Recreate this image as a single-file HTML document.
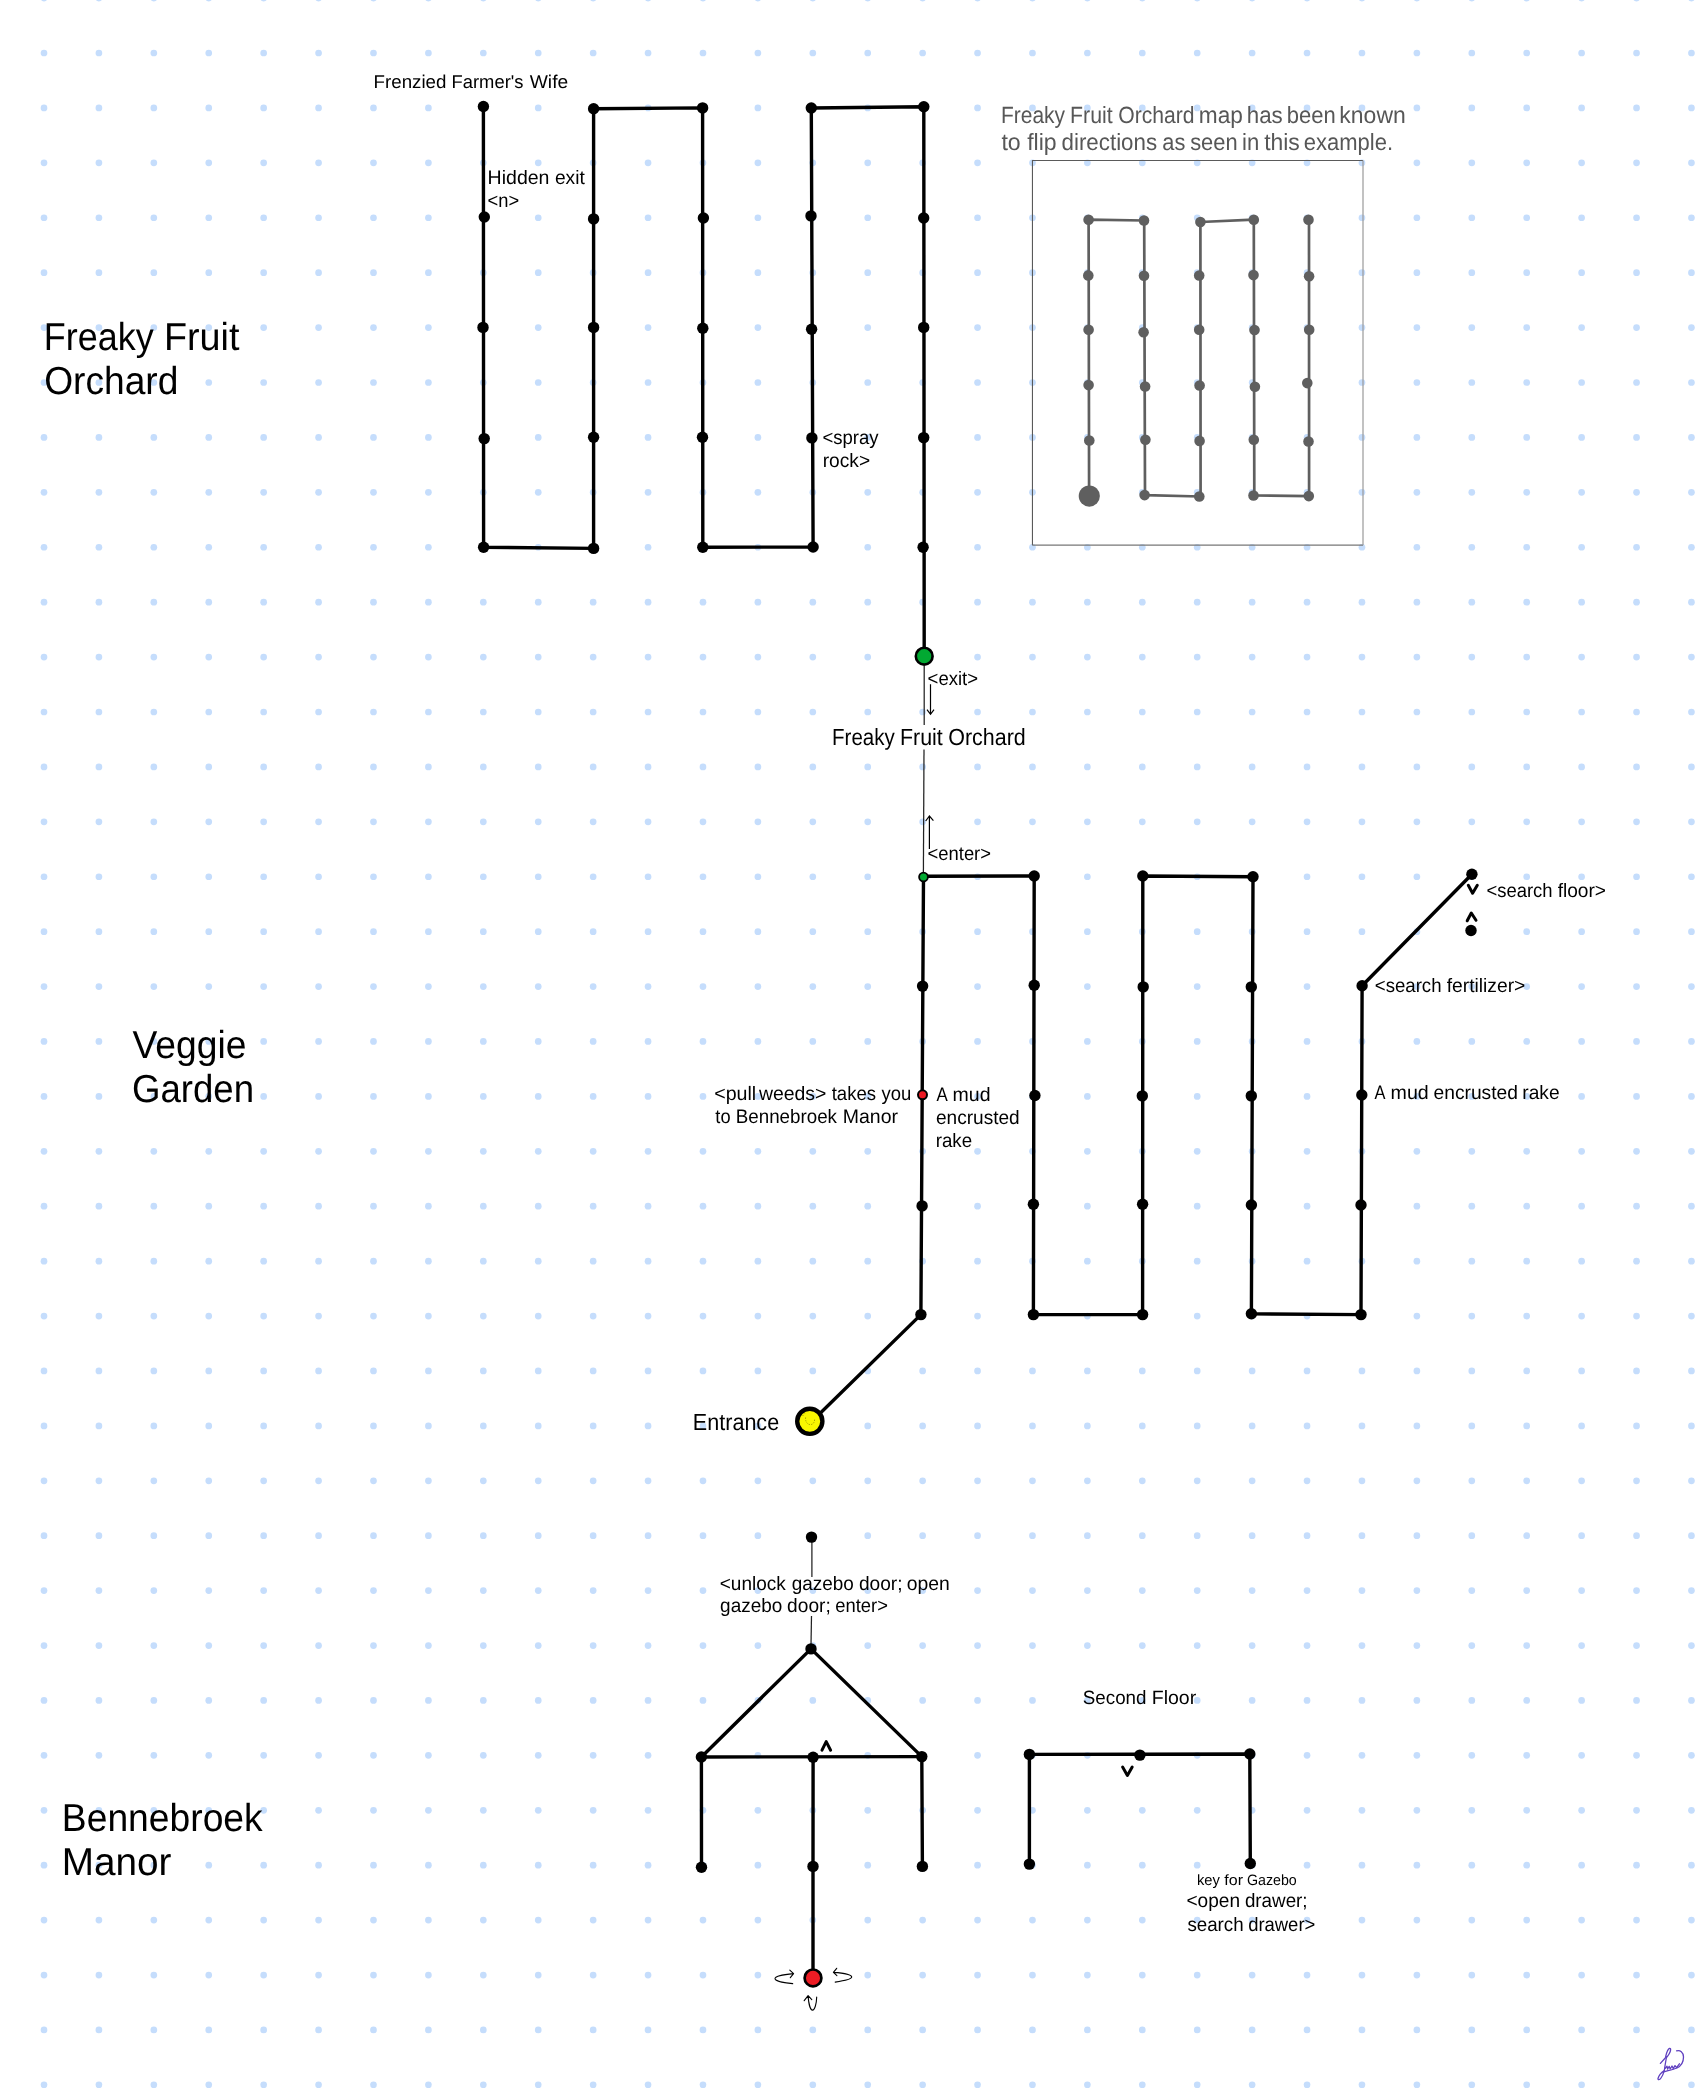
<!DOCTYPE html>
<html><head><meta charset="utf-8"><style>
html,body{margin:0;padding:0;background:#fff;}
body{width:1695px;height:2088px;overflow:hidden;}
svg{display:block;}
text{font-family:"Liberation Sans",sans-serif;text-rendering:geometricPrecision;}
</style></head><body>
<svg width="1695" height="2088" viewBox="0 0 1695 2088">
<defs><filter id="gs" x="0" y="0" width="100%" height="100%" filterUnits="userSpaceOnUse"><feColorMatrix type="identity"/></filter></defs>
<rect width="1695" height="2088" fill="#fff"/>
<g fill="#c5ddfc"><circle cx="44.00" cy="-1.91" r="3.35"/><circle cx="98.91" cy="-1.91" r="3.35"/><circle cx="153.83" cy="-1.91" r="3.35"/><circle cx="208.75" cy="-1.91" r="3.35"/><circle cx="263.66" cy="-1.91" r="3.35"/><circle cx="318.57" cy="-1.91" r="3.35"/><circle cx="373.49" cy="-1.91" r="3.35"/><circle cx="428.40" cy="-1.91" r="3.35"/><circle cx="483.32" cy="-1.91" r="3.35"/><circle cx="538.24" cy="-1.91" r="3.35"/><circle cx="593.15" cy="-1.91" r="3.35"/><circle cx="648.06" cy="-1.91" r="3.35"/><circle cx="702.98" cy="-1.91" r="3.35"/><circle cx="757.89" cy="-1.91" r="3.35"/><circle cx="812.81" cy="-1.91" r="3.35"/><circle cx="867.73" cy="-1.91" r="3.35"/><circle cx="922.64" cy="-1.91" r="3.35"/><circle cx="977.55" cy="-1.91" r="3.35"/><circle cx="1032.47" cy="-1.91" r="3.35"/><circle cx="1087.38" cy="-1.91" r="3.35"/><circle cx="1142.30" cy="-1.91" r="3.35"/><circle cx="1197.21" cy="-1.91" r="3.35"/><circle cx="1252.13" cy="-1.91" r="3.35"/><circle cx="1307.05" cy="-1.91" r="3.35"/><circle cx="1361.96" cy="-1.91" r="3.35"/><circle cx="1416.88" cy="-1.91" r="3.35"/><circle cx="1471.79" cy="-1.91" r="3.35"/><circle cx="1526.70" cy="-1.91" r="3.35"/><circle cx="1581.62" cy="-1.91" r="3.35"/><circle cx="1636.54" cy="-1.91" r="3.35"/><circle cx="1691.45" cy="-1.91" r="3.35"/><circle cx="44.00" cy="53.00" r="3.35"/><circle cx="98.91" cy="53.00" r="3.35"/><circle cx="153.83" cy="53.00" r="3.35"/><circle cx="208.75" cy="53.00" r="3.35"/><circle cx="263.66" cy="53.00" r="3.35"/><circle cx="318.57" cy="53.00" r="3.35"/><circle cx="373.49" cy="53.00" r="3.35"/><circle cx="428.40" cy="53.00" r="3.35"/><circle cx="483.32" cy="53.00" r="3.35"/><circle cx="538.24" cy="53.00" r="3.35"/><circle cx="593.15" cy="53.00" r="3.35"/><circle cx="648.06" cy="53.00" r="3.35"/><circle cx="702.98" cy="53.00" r="3.35"/><circle cx="757.89" cy="53.00" r="3.35"/><circle cx="812.81" cy="53.00" r="3.35"/><circle cx="867.73" cy="53.00" r="3.35"/><circle cx="922.64" cy="53.00" r="3.35"/><circle cx="977.55" cy="53.00" r="3.35"/><circle cx="1032.47" cy="53.00" r="3.35"/><circle cx="1087.38" cy="53.00" r="3.35"/><circle cx="1142.30" cy="53.00" r="3.35"/><circle cx="1197.21" cy="53.00" r="3.35"/><circle cx="1252.13" cy="53.00" r="3.35"/><circle cx="1307.05" cy="53.00" r="3.35"/><circle cx="1361.96" cy="53.00" r="3.35"/><circle cx="1416.88" cy="53.00" r="3.35"/><circle cx="1471.79" cy="53.00" r="3.35"/><circle cx="1526.70" cy="53.00" r="3.35"/><circle cx="1581.62" cy="53.00" r="3.35"/><circle cx="1636.54" cy="53.00" r="3.35"/><circle cx="1691.45" cy="53.00" r="3.35"/><circle cx="44.00" cy="107.91" r="3.35"/><circle cx="98.91" cy="107.91" r="3.35"/><circle cx="153.83" cy="107.91" r="3.35"/><circle cx="208.75" cy="107.91" r="3.35"/><circle cx="263.66" cy="107.91" r="3.35"/><circle cx="318.57" cy="107.91" r="3.35"/><circle cx="373.49" cy="107.91" r="3.35"/><circle cx="428.40" cy="107.91" r="3.35"/><circle cx="483.32" cy="107.91" r="3.35"/><circle cx="538.24" cy="107.91" r="3.35"/><circle cx="593.15" cy="107.91" r="3.35"/><circle cx="648.06" cy="107.91" r="3.35"/><circle cx="702.98" cy="107.91" r="3.35"/><circle cx="757.89" cy="107.91" r="3.35"/><circle cx="812.81" cy="107.91" r="3.35"/><circle cx="867.73" cy="107.91" r="3.35"/><circle cx="922.64" cy="107.91" r="3.35"/><circle cx="977.55" cy="107.91" r="3.35"/><circle cx="1032.47" cy="107.91" r="3.35"/><circle cx="1087.38" cy="107.91" r="3.35"/><circle cx="1142.30" cy="107.91" r="3.35"/><circle cx="1197.21" cy="107.91" r="3.35"/><circle cx="1252.13" cy="107.91" r="3.35"/><circle cx="1307.05" cy="107.91" r="3.35"/><circle cx="1361.96" cy="107.91" r="3.35"/><circle cx="1416.88" cy="107.91" r="3.35"/><circle cx="1471.79" cy="107.91" r="3.35"/><circle cx="1526.70" cy="107.91" r="3.35"/><circle cx="1581.62" cy="107.91" r="3.35"/><circle cx="1636.54" cy="107.91" r="3.35"/><circle cx="1691.45" cy="107.91" r="3.35"/><circle cx="44.00" cy="162.83" r="3.35"/><circle cx="98.91" cy="162.83" r="3.35"/><circle cx="153.83" cy="162.83" r="3.35"/><circle cx="208.75" cy="162.83" r="3.35"/><circle cx="263.66" cy="162.83" r="3.35"/><circle cx="318.57" cy="162.83" r="3.35"/><circle cx="373.49" cy="162.83" r="3.35"/><circle cx="428.40" cy="162.83" r="3.35"/><circle cx="483.32" cy="162.83" r="3.35"/><circle cx="538.24" cy="162.83" r="3.35"/><circle cx="593.15" cy="162.83" r="3.35"/><circle cx="648.06" cy="162.83" r="3.35"/><circle cx="702.98" cy="162.83" r="3.35"/><circle cx="757.89" cy="162.83" r="3.35"/><circle cx="812.81" cy="162.83" r="3.35"/><circle cx="867.73" cy="162.83" r="3.35"/><circle cx="922.64" cy="162.83" r="3.35"/><circle cx="977.55" cy="162.83" r="3.35"/><circle cx="1032.47" cy="162.83" r="3.35"/><circle cx="1087.38" cy="162.83" r="3.35"/><circle cx="1142.30" cy="162.83" r="3.35"/><circle cx="1197.21" cy="162.83" r="3.35"/><circle cx="1252.13" cy="162.83" r="3.35"/><circle cx="1307.05" cy="162.83" r="3.35"/><circle cx="1361.96" cy="162.83" r="3.35"/><circle cx="1416.88" cy="162.83" r="3.35"/><circle cx="1471.79" cy="162.83" r="3.35"/><circle cx="1526.70" cy="162.83" r="3.35"/><circle cx="1581.62" cy="162.83" r="3.35"/><circle cx="1636.54" cy="162.83" r="3.35"/><circle cx="1691.45" cy="162.83" r="3.35"/><circle cx="44.00" cy="217.75" r="3.35"/><circle cx="98.91" cy="217.75" r="3.35"/><circle cx="153.83" cy="217.75" r="3.35"/><circle cx="208.75" cy="217.75" r="3.35"/><circle cx="263.66" cy="217.75" r="3.35"/><circle cx="318.57" cy="217.75" r="3.35"/><circle cx="373.49" cy="217.75" r="3.35"/><circle cx="428.40" cy="217.75" r="3.35"/><circle cx="483.32" cy="217.75" r="3.35"/><circle cx="538.24" cy="217.75" r="3.35"/><circle cx="593.15" cy="217.75" r="3.35"/><circle cx="648.06" cy="217.75" r="3.35"/><circle cx="702.98" cy="217.75" r="3.35"/><circle cx="757.89" cy="217.75" r="3.35"/><circle cx="812.81" cy="217.75" r="3.35"/><circle cx="867.73" cy="217.75" r="3.35"/><circle cx="922.64" cy="217.75" r="3.35"/><circle cx="977.55" cy="217.75" r="3.35"/><circle cx="1032.47" cy="217.75" r="3.35"/><circle cx="1087.38" cy="217.75" r="3.35"/><circle cx="1142.30" cy="217.75" r="3.35"/><circle cx="1197.21" cy="217.75" r="3.35"/><circle cx="1252.13" cy="217.75" r="3.35"/><circle cx="1307.05" cy="217.75" r="3.35"/><circle cx="1361.96" cy="217.75" r="3.35"/><circle cx="1416.88" cy="217.75" r="3.35"/><circle cx="1471.79" cy="217.75" r="3.35"/><circle cx="1526.70" cy="217.75" r="3.35"/><circle cx="1581.62" cy="217.75" r="3.35"/><circle cx="1636.54" cy="217.75" r="3.35"/><circle cx="1691.45" cy="217.75" r="3.35"/><circle cx="44.00" cy="272.66" r="3.35"/><circle cx="98.91" cy="272.66" r="3.35"/><circle cx="153.83" cy="272.66" r="3.35"/><circle cx="208.75" cy="272.66" r="3.35"/><circle cx="263.66" cy="272.66" r="3.35"/><circle cx="318.57" cy="272.66" r="3.35"/><circle cx="373.49" cy="272.66" r="3.35"/><circle cx="428.40" cy="272.66" r="3.35"/><circle cx="483.32" cy="272.66" r="3.35"/><circle cx="538.24" cy="272.66" r="3.35"/><circle cx="593.15" cy="272.66" r="3.35"/><circle cx="648.06" cy="272.66" r="3.35"/><circle cx="702.98" cy="272.66" r="3.35"/><circle cx="757.89" cy="272.66" r="3.35"/><circle cx="812.81" cy="272.66" r="3.35"/><circle cx="867.73" cy="272.66" r="3.35"/><circle cx="922.64" cy="272.66" r="3.35"/><circle cx="977.55" cy="272.66" r="3.35"/><circle cx="1032.47" cy="272.66" r="3.35"/><circle cx="1087.38" cy="272.66" r="3.35"/><circle cx="1142.30" cy="272.66" r="3.35"/><circle cx="1197.21" cy="272.66" r="3.35"/><circle cx="1252.13" cy="272.66" r="3.35"/><circle cx="1307.05" cy="272.66" r="3.35"/><circle cx="1361.96" cy="272.66" r="3.35"/><circle cx="1416.88" cy="272.66" r="3.35"/><circle cx="1471.79" cy="272.66" r="3.35"/><circle cx="1526.70" cy="272.66" r="3.35"/><circle cx="1581.62" cy="272.66" r="3.35"/><circle cx="1636.54" cy="272.66" r="3.35"/><circle cx="1691.45" cy="272.66" r="3.35"/><circle cx="44.00" cy="327.57" r="3.35"/><circle cx="98.91" cy="327.57" r="3.35"/><circle cx="153.83" cy="327.57" r="3.35"/><circle cx="208.75" cy="327.57" r="3.35"/><circle cx="263.66" cy="327.57" r="3.35"/><circle cx="318.57" cy="327.57" r="3.35"/><circle cx="373.49" cy="327.57" r="3.35"/><circle cx="428.40" cy="327.57" r="3.35"/><circle cx="483.32" cy="327.57" r="3.35"/><circle cx="538.24" cy="327.57" r="3.35"/><circle cx="593.15" cy="327.57" r="3.35"/><circle cx="648.06" cy="327.57" r="3.35"/><circle cx="702.98" cy="327.57" r="3.35"/><circle cx="757.89" cy="327.57" r="3.35"/><circle cx="812.81" cy="327.57" r="3.35"/><circle cx="867.73" cy="327.57" r="3.35"/><circle cx="922.64" cy="327.57" r="3.35"/><circle cx="977.55" cy="327.57" r="3.35"/><circle cx="1032.47" cy="327.57" r="3.35"/><circle cx="1087.38" cy="327.57" r="3.35"/><circle cx="1142.30" cy="327.57" r="3.35"/><circle cx="1197.21" cy="327.57" r="3.35"/><circle cx="1252.13" cy="327.57" r="3.35"/><circle cx="1307.05" cy="327.57" r="3.35"/><circle cx="1361.96" cy="327.57" r="3.35"/><circle cx="1416.88" cy="327.57" r="3.35"/><circle cx="1471.79" cy="327.57" r="3.35"/><circle cx="1526.70" cy="327.57" r="3.35"/><circle cx="1581.62" cy="327.57" r="3.35"/><circle cx="1636.54" cy="327.57" r="3.35"/><circle cx="1691.45" cy="327.57" r="3.35"/><circle cx="44.00" cy="382.49" r="3.35"/><circle cx="98.91" cy="382.49" r="3.35"/><circle cx="153.83" cy="382.49" r="3.35"/><circle cx="208.75" cy="382.49" r="3.35"/><circle cx="263.66" cy="382.49" r="3.35"/><circle cx="318.57" cy="382.49" r="3.35"/><circle cx="373.49" cy="382.49" r="3.35"/><circle cx="428.40" cy="382.49" r="3.35"/><circle cx="483.32" cy="382.49" r="3.35"/><circle cx="538.24" cy="382.49" r="3.35"/><circle cx="593.15" cy="382.49" r="3.35"/><circle cx="648.06" cy="382.49" r="3.35"/><circle cx="702.98" cy="382.49" r="3.35"/><circle cx="757.89" cy="382.49" r="3.35"/><circle cx="812.81" cy="382.49" r="3.35"/><circle cx="867.73" cy="382.49" r="3.35"/><circle cx="922.64" cy="382.49" r="3.35"/><circle cx="977.55" cy="382.49" r="3.35"/><circle cx="1032.47" cy="382.49" r="3.35"/><circle cx="1087.38" cy="382.49" r="3.35"/><circle cx="1142.30" cy="382.49" r="3.35"/><circle cx="1197.21" cy="382.49" r="3.35"/><circle cx="1252.13" cy="382.49" r="3.35"/><circle cx="1307.05" cy="382.49" r="3.35"/><circle cx="1361.96" cy="382.49" r="3.35"/><circle cx="1416.88" cy="382.49" r="3.35"/><circle cx="1471.79" cy="382.49" r="3.35"/><circle cx="1526.70" cy="382.49" r="3.35"/><circle cx="1581.62" cy="382.49" r="3.35"/><circle cx="1636.54" cy="382.49" r="3.35"/><circle cx="1691.45" cy="382.49" r="3.35"/><circle cx="44.00" cy="437.40" r="3.35"/><circle cx="98.91" cy="437.40" r="3.35"/><circle cx="153.83" cy="437.40" r="3.35"/><circle cx="208.75" cy="437.40" r="3.35"/><circle cx="263.66" cy="437.40" r="3.35"/><circle cx="318.57" cy="437.40" r="3.35"/><circle cx="373.49" cy="437.40" r="3.35"/><circle cx="428.40" cy="437.40" r="3.35"/><circle cx="483.32" cy="437.40" r="3.35"/><circle cx="538.24" cy="437.40" r="3.35"/><circle cx="593.15" cy="437.40" r="3.35"/><circle cx="648.06" cy="437.40" r="3.35"/><circle cx="702.98" cy="437.40" r="3.35"/><circle cx="757.89" cy="437.40" r="3.35"/><circle cx="812.81" cy="437.40" r="3.35"/><circle cx="867.73" cy="437.40" r="3.35"/><circle cx="922.64" cy="437.40" r="3.35"/><circle cx="977.55" cy="437.40" r="3.35"/><circle cx="1032.47" cy="437.40" r="3.35"/><circle cx="1087.38" cy="437.40" r="3.35"/><circle cx="1142.30" cy="437.40" r="3.35"/><circle cx="1197.21" cy="437.40" r="3.35"/><circle cx="1252.13" cy="437.40" r="3.35"/><circle cx="1307.05" cy="437.40" r="3.35"/><circle cx="1361.96" cy="437.40" r="3.35"/><circle cx="1416.88" cy="437.40" r="3.35"/><circle cx="1471.79" cy="437.40" r="3.35"/><circle cx="1526.70" cy="437.40" r="3.35"/><circle cx="1581.62" cy="437.40" r="3.35"/><circle cx="1636.54" cy="437.40" r="3.35"/><circle cx="1691.45" cy="437.40" r="3.35"/><circle cx="44.00" cy="492.32" r="3.35"/><circle cx="98.91" cy="492.32" r="3.35"/><circle cx="153.83" cy="492.32" r="3.35"/><circle cx="208.75" cy="492.32" r="3.35"/><circle cx="263.66" cy="492.32" r="3.35"/><circle cx="318.57" cy="492.32" r="3.35"/><circle cx="373.49" cy="492.32" r="3.35"/><circle cx="428.40" cy="492.32" r="3.35"/><circle cx="483.32" cy="492.32" r="3.35"/><circle cx="538.24" cy="492.32" r="3.35"/><circle cx="593.15" cy="492.32" r="3.35"/><circle cx="648.06" cy="492.32" r="3.35"/><circle cx="702.98" cy="492.32" r="3.35"/><circle cx="757.89" cy="492.32" r="3.35"/><circle cx="812.81" cy="492.32" r="3.35"/><circle cx="867.73" cy="492.32" r="3.35"/><circle cx="922.64" cy="492.32" r="3.35"/><circle cx="977.55" cy="492.32" r="3.35"/><circle cx="1032.47" cy="492.32" r="3.35"/><circle cx="1087.38" cy="492.32" r="3.35"/><circle cx="1142.30" cy="492.32" r="3.35"/><circle cx="1197.21" cy="492.32" r="3.35"/><circle cx="1252.13" cy="492.32" r="3.35"/><circle cx="1307.05" cy="492.32" r="3.35"/><circle cx="1361.96" cy="492.32" r="3.35"/><circle cx="1416.88" cy="492.32" r="3.35"/><circle cx="1471.79" cy="492.32" r="3.35"/><circle cx="1526.70" cy="492.32" r="3.35"/><circle cx="1581.62" cy="492.32" r="3.35"/><circle cx="1636.54" cy="492.32" r="3.35"/><circle cx="1691.45" cy="492.32" r="3.35"/><circle cx="44.00" cy="547.24" r="3.35"/><circle cx="98.91" cy="547.24" r="3.35"/><circle cx="153.83" cy="547.24" r="3.35"/><circle cx="208.75" cy="547.24" r="3.35"/><circle cx="263.66" cy="547.24" r="3.35"/><circle cx="318.57" cy="547.24" r="3.35"/><circle cx="373.49" cy="547.24" r="3.35"/><circle cx="428.40" cy="547.24" r="3.35"/><circle cx="483.32" cy="547.24" r="3.35"/><circle cx="538.24" cy="547.24" r="3.35"/><circle cx="593.15" cy="547.24" r="3.35"/><circle cx="648.06" cy="547.24" r="3.35"/><circle cx="702.98" cy="547.24" r="3.35"/><circle cx="757.89" cy="547.24" r="3.35"/><circle cx="812.81" cy="547.24" r="3.35"/><circle cx="867.73" cy="547.24" r="3.35"/><circle cx="922.64" cy="547.24" r="3.35"/><circle cx="977.55" cy="547.24" r="3.35"/><circle cx="1032.47" cy="547.24" r="3.35"/><circle cx="1087.38" cy="547.24" r="3.35"/><circle cx="1142.30" cy="547.24" r="3.35"/><circle cx="1197.21" cy="547.24" r="3.35"/><circle cx="1252.13" cy="547.24" r="3.35"/><circle cx="1307.05" cy="547.24" r="3.35"/><circle cx="1361.96" cy="547.24" r="3.35"/><circle cx="1416.88" cy="547.24" r="3.35"/><circle cx="1471.79" cy="547.24" r="3.35"/><circle cx="1526.70" cy="547.24" r="3.35"/><circle cx="1581.62" cy="547.24" r="3.35"/><circle cx="1636.54" cy="547.24" r="3.35"/><circle cx="1691.45" cy="547.24" r="3.35"/><circle cx="44.00" cy="602.15" r="3.35"/><circle cx="98.91" cy="602.15" r="3.35"/><circle cx="153.83" cy="602.15" r="3.35"/><circle cx="208.75" cy="602.15" r="3.35"/><circle cx="263.66" cy="602.15" r="3.35"/><circle cx="318.57" cy="602.15" r="3.35"/><circle cx="373.49" cy="602.15" r="3.35"/><circle cx="428.40" cy="602.15" r="3.35"/><circle cx="483.32" cy="602.15" r="3.35"/><circle cx="538.24" cy="602.15" r="3.35"/><circle cx="593.15" cy="602.15" r="3.35"/><circle cx="648.06" cy="602.15" r="3.35"/><circle cx="702.98" cy="602.15" r="3.35"/><circle cx="757.89" cy="602.15" r="3.35"/><circle cx="812.81" cy="602.15" r="3.35"/><circle cx="867.73" cy="602.15" r="3.35"/><circle cx="922.64" cy="602.15" r="3.35"/><circle cx="977.55" cy="602.15" r="3.35"/><circle cx="1032.47" cy="602.15" r="3.35"/><circle cx="1087.38" cy="602.15" r="3.35"/><circle cx="1142.30" cy="602.15" r="3.35"/><circle cx="1197.21" cy="602.15" r="3.35"/><circle cx="1252.13" cy="602.15" r="3.35"/><circle cx="1307.05" cy="602.15" r="3.35"/><circle cx="1361.96" cy="602.15" r="3.35"/><circle cx="1416.88" cy="602.15" r="3.35"/><circle cx="1471.79" cy="602.15" r="3.35"/><circle cx="1526.70" cy="602.15" r="3.35"/><circle cx="1581.62" cy="602.15" r="3.35"/><circle cx="1636.54" cy="602.15" r="3.35"/><circle cx="1691.45" cy="602.15" r="3.35"/><circle cx="44.00" cy="657.07" r="3.35"/><circle cx="98.91" cy="657.07" r="3.35"/><circle cx="153.83" cy="657.07" r="3.35"/><circle cx="208.75" cy="657.07" r="3.35"/><circle cx="263.66" cy="657.07" r="3.35"/><circle cx="318.57" cy="657.07" r="3.35"/><circle cx="373.49" cy="657.07" r="3.35"/><circle cx="428.40" cy="657.07" r="3.35"/><circle cx="483.32" cy="657.07" r="3.35"/><circle cx="538.24" cy="657.07" r="3.35"/><circle cx="593.15" cy="657.07" r="3.35"/><circle cx="648.06" cy="657.07" r="3.35"/><circle cx="702.98" cy="657.07" r="3.35"/><circle cx="757.89" cy="657.07" r="3.35"/><circle cx="812.81" cy="657.07" r="3.35"/><circle cx="867.73" cy="657.07" r="3.35"/><circle cx="922.64" cy="657.07" r="3.35"/><circle cx="977.55" cy="657.07" r="3.35"/><circle cx="1032.47" cy="657.07" r="3.35"/><circle cx="1087.38" cy="657.07" r="3.35"/><circle cx="1142.30" cy="657.07" r="3.35"/><circle cx="1197.21" cy="657.07" r="3.35"/><circle cx="1252.13" cy="657.07" r="3.35"/><circle cx="1307.05" cy="657.07" r="3.35"/><circle cx="1361.96" cy="657.07" r="3.35"/><circle cx="1416.88" cy="657.07" r="3.35"/><circle cx="1471.79" cy="657.07" r="3.35"/><circle cx="1526.70" cy="657.07" r="3.35"/><circle cx="1581.62" cy="657.07" r="3.35"/><circle cx="1636.54" cy="657.07" r="3.35"/><circle cx="1691.45" cy="657.07" r="3.35"/><circle cx="44.00" cy="711.98" r="3.35"/><circle cx="98.91" cy="711.98" r="3.35"/><circle cx="153.83" cy="711.98" r="3.35"/><circle cx="208.75" cy="711.98" r="3.35"/><circle cx="263.66" cy="711.98" r="3.35"/><circle cx="318.57" cy="711.98" r="3.35"/><circle cx="373.49" cy="711.98" r="3.35"/><circle cx="428.40" cy="711.98" r="3.35"/><circle cx="483.32" cy="711.98" r="3.35"/><circle cx="538.24" cy="711.98" r="3.35"/><circle cx="593.15" cy="711.98" r="3.35"/><circle cx="648.06" cy="711.98" r="3.35"/><circle cx="702.98" cy="711.98" r="3.35"/><circle cx="757.89" cy="711.98" r="3.35"/><circle cx="812.81" cy="711.98" r="3.35"/><circle cx="867.73" cy="711.98" r="3.35"/><circle cx="922.64" cy="711.98" r="3.35"/><circle cx="977.55" cy="711.98" r="3.35"/><circle cx="1032.47" cy="711.98" r="3.35"/><circle cx="1087.38" cy="711.98" r="3.35"/><circle cx="1142.30" cy="711.98" r="3.35"/><circle cx="1197.21" cy="711.98" r="3.35"/><circle cx="1252.13" cy="711.98" r="3.35"/><circle cx="1307.05" cy="711.98" r="3.35"/><circle cx="1361.96" cy="711.98" r="3.35"/><circle cx="1416.88" cy="711.98" r="3.35"/><circle cx="1471.79" cy="711.98" r="3.35"/><circle cx="1526.70" cy="711.98" r="3.35"/><circle cx="1581.62" cy="711.98" r="3.35"/><circle cx="1636.54" cy="711.98" r="3.35"/><circle cx="1691.45" cy="711.98" r="3.35"/><circle cx="44.00" cy="766.89" r="3.35"/><circle cx="98.91" cy="766.89" r="3.35"/><circle cx="153.83" cy="766.89" r="3.35"/><circle cx="208.75" cy="766.89" r="3.35"/><circle cx="263.66" cy="766.89" r="3.35"/><circle cx="318.57" cy="766.89" r="3.35"/><circle cx="373.49" cy="766.89" r="3.35"/><circle cx="428.40" cy="766.89" r="3.35"/><circle cx="483.32" cy="766.89" r="3.35"/><circle cx="538.24" cy="766.89" r="3.35"/><circle cx="593.15" cy="766.89" r="3.35"/><circle cx="648.06" cy="766.89" r="3.35"/><circle cx="702.98" cy="766.89" r="3.35"/><circle cx="757.89" cy="766.89" r="3.35"/><circle cx="812.81" cy="766.89" r="3.35"/><circle cx="867.73" cy="766.89" r="3.35"/><circle cx="922.64" cy="766.89" r="3.35"/><circle cx="977.55" cy="766.89" r="3.35"/><circle cx="1032.47" cy="766.89" r="3.35"/><circle cx="1087.38" cy="766.89" r="3.35"/><circle cx="1142.30" cy="766.89" r="3.35"/><circle cx="1197.21" cy="766.89" r="3.35"/><circle cx="1252.13" cy="766.89" r="3.35"/><circle cx="1307.05" cy="766.89" r="3.35"/><circle cx="1361.96" cy="766.89" r="3.35"/><circle cx="1416.88" cy="766.89" r="3.35"/><circle cx="1471.79" cy="766.89" r="3.35"/><circle cx="1526.70" cy="766.89" r="3.35"/><circle cx="1581.62" cy="766.89" r="3.35"/><circle cx="1636.54" cy="766.89" r="3.35"/><circle cx="1691.45" cy="766.89" r="3.35"/><circle cx="44.00" cy="821.81" r="3.35"/><circle cx="98.91" cy="821.81" r="3.35"/><circle cx="153.83" cy="821.81" r="3.35"/><circle cx="208.75" cy="821.81" r="3.35"/><circle cx="263.66" cy="821.81" r="3.35"/><circle cx="318.57" cy="821.81" r="3.35"/><circle cx="373.49" cy="821.81" r="3.35"/><circle cx="428.40" cy="821.81" r="3.35"/><circle cx="483.32" cy="821.81" r="3.35"/><circle cx="538.24" cy="821.81" r="3.35"/><circle cx="593.15" cy="821.81" r="3.35"/><circle cx="648.06" cy="821.81" r="3.35"/><circle cx="702.98" cy="821.81" r="3.35"/><circle cx="757.89" cy="821.81" r="3.35"/><circle cx="812.81" cy="821.81" r="3.35"/><circle cx="867.73" cy="821.81" r="3.35"/><circle cx="922.64" cy="821.81" r="3.35"/><circle cx="977.55" cy="821.81" r="3.35"/><circle cx="1032.47" cy="821.81" r="3.35"/><circle cx="1087.38" cy="821.81" r="3.35"/><circle cx="1142.30" cy="821.81" r="3.35"/><circle cx="1197.21" cy="821.81" r="3.35"/><circle cx="1252.13" cy="821.81" r="3.35"/><circle cx="1307.05" cy="821.81" r="3.35"/><circle cx="1361.96" cy="821.81" r="3.35"/><circle cx="1416.88" cy="821.81" r="3.35"/><circle cx="1471.79" cy="821.81" r="3.35"/><circle cx="1526.70" cy="821.81" r="3.35"/><circle cx="1581.62" cy="821.81" r="3.35"/><circle cx="1636.54" cy="821.81" r="3.35"/><circle cx="1691.45" cy="821.81" r="3.35"/><circle cx="44.00" cy="876.73" r="3.35"/><circle cx="98.91" cy="876.73" r="3.35"/><circle cx="153.83" cy="876.73" r="3.35"/><circle cx="208.75" cy="876.73" r="3.35"/><circle cx="263.66" cy="876.73" r="3.35"/><circle cx="318.57" cy="876.73" r="3.35"/><circle cx="373.49" cy="876.73" r="3.35"/><circle cx="428.40" cy="876.73" r="3.35"/><circle cx="483.32" cy="876.73" r="3.35"/><circle cx="538.24" cy="876.73" r="3.35"/><circle cx="593.15" cy="876.73" r="3.35"/><circle cx="648.06" cy="876.73" r="3.35"/><circle cx="702.98" cy="876.73" r="3.35"/><circle cx="757.89" cy="876.73" r="3.35"/><circle cx="812.81" cy="876.73" r="3.35"/><circle cx="867.73" cy="876.73" r="3.35"/><circle cx="922.64" cy="876.73" r="3.35"/><circle cx="977.55" cy="876.73" r="3.35"/><circle cx="1032.47" cy="876.73" r="3.35"/><circle cx="1087.38" cy="876.73" r="3.35"/><circle cx="1142.30" cy="876.73" r="3.35"/><circle cx="1197.21" cy="876.73" r="3.35"/><circle cx="1252.13" cy="876.73" r="3.35"/><circle cx="1307.05" cy="876.73" r="3.35"/><circle cx="1361.96" cy="876.73" r="3.35"/><circle cx="1416.88" cy="876.73" r="3.35"/><circle cx="1471.79" cy="876.73" r="3.35"/><circle cx="1526.70" cy="876.73" r="3.35"/><circle cx="1581.62" cy="876.73" r="3.35"/><circle cx="1636.54" cy="876.73" r="3.35"/><circle cx="1691.45" cy="876.73" r="3.35"/><circle cx="44.00" cy="931.64" r="3.35"/><circle cx="98.91" cy="931.64" r="3.35"/><circle cx="153.83" cy="931.64" r="3.35"/><circle cx="208.75" cy="931.64" r="3.35"/><circle cx="263.66" cy="931.64" r="3.35"/><circle cx="318.57" cy="931.64" r="3.35"/><circle cx="373.49" cy="931.64" r="3.35"/><circle cx="428.40" cy="931.64" r="3.35"/><circle cx="483.32" cy="931.64" r="3.35"/><circle cx="538.24" cy="931.64" r="3.35"/><circle cx="593.15" cy="931.64" r="3.35"/><circle cx="648.06" cy="931.64" r="3.35"/><circle cx="702.98" cy="931.64" r="3.35"/><circle cx="757.89" cy="931.64" r="3.35"/><circle cx="812.81" cy="931.64" r="3.35"/><circle cx="867.73" cy="931.64" r="3.35"/><circle cx="922.64" cy="931.64" r="3.35"/><circle cx="977.55" cy="931.64" r="3.35"/><circle cx="1032.47" cy="931.64" r="3.35"/><circle cx="1087.38" cy="931.64" r="3.35"/><circle cx="1142.30" cy="931.64" r="3.35"/><circle cx="1197.21" cy="931.64" r="3.35"/><circle cx="1252.13" cy="931.64" r="3.35"/><circle cx="1307.05" cy="931.64" r="3.35"/><circle cx="1361.96" cy="931.64" r="3.35"/><circle cx="1416.88" cy="931.64" r="3.35"/><circle cx="1471.79" cy="931.64" r="3.35"/><circle cx="1526.70" cy="931.64" r="3.35"/><circle cx="1581.62" cy="931.64" r="3.35"/><circle cx="1636.54" cy="931.64" r="3.35"/><circle cx="1691.45" cy="931.64" r="3.35"/><circle cx="44.00" cy="986.56" r="3.35"/><circle cx="98.91" cy="986.56" r="3.35"/><circle cx="153.83" cy="986.56" r="3.35"/><circle cx="208.75" cy="986.56" r="3.35"/><circle cx="263.66" cy="986.56" r="3.35"/><circle cx="318.57" cy="986.56" r="3.35"/><circle cx="373.49" cy="986.56" r="3.35"/><circle cx="428.40" cy="986.56" r="3.35"/><circle cx="483.32" cy="986.56" r="3.35"/><circle cx="538.24" cy="986.56" r="3.35"/><circle cx="593.15" cy="986.56" r="3.35"/><circle cx="648.06" cy="986.56" r="3.35"/><circle cx="702.98" cy="986.56" r="3.35"/><circle cx="757.89" cy="986.56" r="3.35"/><circle cx="812.81" cy="986.56" r="3.35"/><circle cx="867.73" cy="986.56" r="3.35"/><circle cx="922.64" cy="986.56" r="3.35"/><circle cx="977.55" cy="986.56" r="3.35"/><circle cx="1032.47" cy="986.56" r="3.35"/><circle cx="1087.38" cy="986.56" r="3.35"/><circle cx="1142.30" cy="986.56" r="3.35"/><circle cx="1197.21" cy="986.56" r="3.35"/><circle cx="1252.13" cy="986.56" r="3.35"/><circle cx="1307.05" cy="986.56" r="3.35"/><circle cx="1361.96" cy="986.56" r="3.35"/><circle cx="1416.88" cy="986.56" r="3.35"/><circle cx="1471.79" cy="986.56" r="3.35"/><circle cx="1526.70" cy="986.56" r="3.35"/><circle cx="1581.62" cy="986.56" r="3.35"/><circle cx="1636.54" cy="986.56" r="3.35"/><circle cx="1691.45" cy="986.56" r="3.35"/><circle cx="44.00" cy="1041.47" r="3.35"/><circle cx="98.91" cy="1041.47" r="3.35"/><circle cx="153.83" cy="1041.47" r="3.35"/><circle cx="208.75" cy="1041.47" r="3.35"/><circle cx="263.66" cy="1041.47" r="3.35"/><circle cx="318.57" cy="1041.47" r="3.35"/><circle cx="373.49" cy="1041.47" r="3.35"/><circle cx="428.40" cy="1041.47" r="3.35"/><circle cx="483.32" cy="1041.47" r="3.35"/><circle cx="538.24" cy="1041.47" r="3.35"/><circle cx="593.15" cy="1041.47" r="3.35"/><circle cx="648.06" cy="1041.47" r="3.35"/><circle cx="702.98" cy="1041.47" r="3.35"/><circle cx="757.89" cy="1041.47" r="3.35"/><circle cx="812.81" cy="1041.47" r="3.35"/><circle cx="867.73" cy="1041.47" r="3.35"/><circle cx="922.64" cy="1041.47" r="3.35"/><circle cx="977.55" cy="1041.47" r="3.35"/><circle cx="1032.47" cy="1041.47" r="3.35"/><circle cx="1087.38" cy="1041.47" r="3.35"/><circle cx="1142.30" cy="1041.47" r="3.35"/><circle cx="1197.21" cy="1041.47" r="3.35"/><circle cx="1252.13" cy="1041.47" r="3.35"/><circle cx="1307.05" cy="1041.47" r="3.35"/><circle cx="1361.96" cy="1041.47" r="3.35"/><circle cx="1416.88" cy="1041.47" r="3.35"/><circle cx="1471.79" cy="1041.47" r="3.35"/><circle cx="1526.70" cy="1041.47" r="3.35"/><circle cx="1581.62" cy="1041.47" r="3.35"/><circle cx="1636.54" cy="1041.47" r="3.35"/><circle cx="1691.45" cy="1041.47" r="3.35"/><circle cx="44.00" cy="1096.38" r="3.35"/><circle cx="98.91" cy="1096.38" r="3.35"/><circle cx="153.83" cy="1096.38" r="3.35"/><circle cx="208.75" cy="1096.38" r="3.35"/><circle cx="263.66" cy="1096.38" r="3.35"/><circle cx="318.57" cy="1096.38" r="3.35"/><circle cx="373.49" cy="1096.38" r="3.35"/><circle cx="428.40" cy="1096.38" r="3.35"/><circle cx="483.32" cy="1096.38" r="3.35"/><circle cx="538.24" cy="1096.38" r="3.35"/><circle cx="593.15" cy="1096.38" r="3.35"/><circle cx="648.06" cy="1096.38" r="3.35"/><circle cx="702.98" cy="1096.38" r="3.35"/><circle cx="757.89" cy="1096.38" r="3.35"/><circle cx="812.81" cy="1096.38" r="3.35"/><circle cx="867.73" cy="1096.38" r="3.35"/><circle cx="922.64" cy="1096.38" r="3.35"/><circle cx="977.55" cy="1096.38" r="3.35"/><circle cx="1032.47" cy="1096.38" r="3.35"/><circle cx="1087.38" cy="1096.38" r="3.35"/><circle cx="1142.30" cy="1096.38" r="3.35"/><circle cx="1197.21" cy="1096.38" r="3.35"/><circle cx="1252.13" cy="1096.38" r="3.35"/><circle cx="1307.05" cy="1096.38" r="3.35"/><circle cx="1361.96" cy="1096.38" r="3.35"/><circle cx="1416.88" cy="1096.38" r="3.35"/><circle cx="1471.79" cy="1096.38" r="3.35"/><circle cx="1526.70" cy="1096.38" r="3.35"/><circle cx="1581.62" cy="1096.38" r="3.35"/><circle cx="1636.54" cy="1096.38" r="3.35"/><circle cx="1691.45" cy="1096.38" r="3.35"/><circle cx="44.00" cy="1151.30" r="3.35"/><circle cx="98.91" cy="1151.30" r="3.35"/><circle cx="153.83" cy="1151.30" r="3.35"/><circle cx="208.75" cy="1151.30" r="3.35"/><circle cx="263.66" cy="1151.30" r="3.35"/><circle cx="318.57" cy="1151.30" r="3.35"/><circle cx="373.49" cy="1151.30" r="3.35"/><circle cx="428.40" cy="1151.30" r="3.35"/><circle cx="483.32" cy="1151.30" r="3.35"/><circle cx="538.24" cy="1151.30" r="3.35"/><circle cx="593.15" cy="1151.30" r="3.35"/><circle cx="648.06" cy="1151.30" r="3.35"/><circle cx="702.98" cy="1151.30" r="3.35"/><circle cx="757.89" cy="1151.30" r="3.35"/><circle cx="812.81" cy="1151.30" r="3.35"/><circle cx="867.73" cy="1151.30" r="3.35"/><circle cx="922.64" cy="1151.30" r="3.35"/><circle cx="977.55" cy="1151.30" r="3.35"/><circle cx="1032.47" cy="1151.30" r="3.35"/><circle cx="1087.38" cy="1151.30" r="3.35"/><circle cx="1142.30" cy="1151.30" r="3.35"/><circle cx="1197.21" cy="1151.30" r="3.35"/><circle cx="1252.13" cy="1151.30" r="3.35"/><circle cx="1307.05" cy="1151.30" r="3.35"/><circle cx="1361.96" cy="1151.30" r="3.35"/><circle cx="1416.88" cy="1151.30" r="3.35"/><circle cx="1471.79" cy="1151.30" r="3.35"/><circle cx="1526.70" cy="1151.30" r="3.35"/><circle cx="1581.62" cy="1151.30" r="3.35"/><circle cx="1636.54" cy="1151.30" r="3.35"/><circle cx="1691.45" cy="1151.30" r="3.35"/><circle cx="44.00" cy="1206.21" r="3.35"/><circle cx="98.91" cy="1206.21" r="3.35"/><circle cx="153.83" cy="1206.21" r="3.35"/><circle cx="208.75" cy="1206.21" r="3.35"/><circle cx="263.66" cy="1206.21" r="3.35"/><circle cx="318.57" cy="1206.21" r="3.35"/><circle cx="373.49" cy="1206.21" r="3.35"/><circle cx="428.40" cy="1206.21" r="3.35"/><circle cx="483.32" cy="1206.21" r="3.35"/><circle cx="538.24" cy="1206.21" r="3.35"/><circle cx="593.15" cy="1206.21" r="3.35"/><circle cx="648.06" cy="1206.21" r="3.35"/><circle cx="702.98" cy="1206.21" r="3.35"/><circle cx="757.89" cy="1206.21" r="3.35"/><circle cx="812.81" cy="1206.21" r="3.35"/><circle cx="867.73" cy="1206.21" r="3.35"/><circle cx="922.64" cy="1206.21" r="3.35"/><circle cx="977.55" cy="1206.21" r="3.35"/><circle cx="1032.47" cy="1206.21" r="3.35"/><circle cx="1087.38" cy="1206.21" r="3.35"/><circle cx="1142.30" cy="1206.21" r="3.35"/><circle cx="1197.21" cy="1206.21" r="3.35"/><circle cx="1252.13" cy="1206.21" r="3.35"/><circle cx="1307.05" cy="1206.21" r="3.35"/><circle cx="1361.96" cy="1206.21" r="3.35"/><circle cx="1416.88" cy="1206.21" r="3.35"/><circle cx="1471.79" cy="1206.21" r="3.35"/><circle cx="1526.70" cy="1206.21" r="3.35"/><circle cx="1581.62" cy="1206.21" r="3.35"/><circle cx="1636.54" cy="1206.21" r="3.35"/><circle cx="1691.45" cy="1206.21" r="3.35"/><circle cx="44.00" cy="1261.13" r="3.35"/><circle cx="98.91" cy="1261.13" r="3.35"/><circle cx="153.83" cy="1261.13" r="3.35"/><circle cx="208.75" cy="1261.13" r="3.35"/><circle cx="263.66" cy="1261.13" r="3.35"/><circle cx="318.57" cy="1261.13" r="3.35"/><circle cx="373.49" cy="1261.13" r="3.35"/><circle cx="428.40" cy="1261.13" r="3.35"/><circle cx="483.32" cy="1261.13" r="3.35"/><circle cx="538.24" cy="1261.13" r="3.35"/><circle cx="593.15" cy="1261.13" r="3.35"/><circle cx="648.06" cy="1261.13" r="3.35"/><circle cx="702.98" cy="1261.13" r="3.35"/><circle cx="757.89" cy="1261.13" r="3.35"/><circle cx="812.81" cy="1261.13" r="3.35"/><circle cx="867.73" cy="1261.13" r="3.35"/><circle cx="922.64" cy="1261.13" r="3.35"/><circle cx="977.55" cy="1261.13" r="3.35"/><circle cx="1032.47" cy="1261.13" r="3.35"/><circle cx="1087.38" cy="1261.13" r="3.35"/><circle cx="1142.30" cy="1261.13" r="3.35"/><circle cx="1197.21" cy="1261.13" r="3.35"/><circle cx="1252.13" cy="1261.13" r="3.35"/><circle cx="1307.05" cy="1261.13" r="3.35"/><circle cx="1361.96" cy="1261.13" r="3.35"/><circle cx="1416.88" cy="1261.13" r="3.35"/><circle cx="1471.79" cy="1261.13" r="3.35"/><circle cx="1526.70" cy="1261.13" r="3.35"/><circle cx="1581.62" cy="1261.13" r="3.35"/><circle cx="1636.54" cy="1261.13" r="3.35"/><circle cx="1691.45" cy="1261.13" r="3.35"/><circle cx="44.00" cy="1316.05" r="3.35"/><circle cx="98.91" cy="1316.05" r="3.35"/><circle cx="153.83" cy="1316.05" r="3.35"/><circle cx="208.75" cy="1316.05" r="3.35"/><circle cx="263.66" cy="1316.05" r="3.35"/><circle cx="318.57" cy="1316.05" r="3.35"/><circle cx="373.49" cy="1316.05" r="3.35"/><circle cx="428.40" cy="1316.05" r="3.35"/><circle cx="483.32" cy="1316.05" r="3.35"/><circle cx="538.24" cy="1316.05" r="3.35"/><circle cx="593.15" cy="1316.05" r="3.35"/><circle cx="648.06" cy="1316.05" r="3.35"/><circle cx="702.98" cy="1316.05" r="3.35"/><circle cx="757.89" cy="1316.05" r="3.35"/><circle cx="812.81" cy="1316.05" r="3.35"/><circle cx="867.73" cy="1316.05" r="3.35"/><circle cx="922.64" cy="1316.05" r="3.35"/><circle cx="977.55" cy="1316.05" r="3.35"/><circle cx="1032.47" cy="1316.05" r="3.35"/><circle cx="1087.38" cy="1316.05" r="3.35"/><circle cx="1142.30" cy="1316.05" r="3.35"/><circle cx="1197.21" cy="1316.05" r="3.35"/><circle cx="1252.13" cy="1316.05" r="3.35"/><circle cx="1307.05" cy="1316.05" r="3.35"/><circle cx="1361.96" cy="1316.05" r="3.35"/><circle cx="1416.88" cy="1316.05" r="3.35"/><circle cx="1471.79" cy="1316.05" r="3.35"/><circle cx="1526.70" cy="1316.05" r="3.35"/><circle cx="1581.62" cy="1316.05" r="3.35"/><circle cx="1636.54" cy="1316.05" r="3.35"/><circle cx="1691.45" cy="1316.05" r="3.35"/><circle cx="44.00" cy="1370.96" r="3.35"/><circle cx="98.91" cy="1370.96" r="3.35"/><circle cx="153.83" cy="1370.96" r="3.35"/><circle cx="208.75" cy="1370.96" r="3.35"/><circle cx="263.66" cy="1370.96" r="3.35"/><circle cx="318.57" cy="1370.96" r="3.35"/><circle cx="373.49" cy="1370.96" r="3.35"/><circle cx="428.40" cy="1370.96" r="3.35"/><circle cx="483.32" cy="1370.96" r="3.35"/><circle cx="538.24" cy="1370.96" r="3.35"/><circle cx="593.15" cy="1370.96" r="3.35"/><circle cx="648.06" cy="1370.96" r="3.35"/><circle cx="702.98" cy="1370.96" r="3.35"/><circle cx="757.89" cy="1370.96" r="3.35"/><circle cx="812.81" cy="1370.96" r="3.35"/><circle cx="867.73" cy="1370.96" r="3.35"/><circle cx="922.64" cy="1370.96" r="3.35"/><circle cx="977.55" cy="1370.96" r="3.35"/><circle cx="1032.47" cy="1370.96" r="3.35"/><circle cx="1087.38" cy="1370.96" r="3.35"/><circle cx="1142.30" cy="1370.96" r="3.35"/><circle cx="1197.21" cy="1370.96" r="3.35"/><circle cx="1252.13" cy="1370.96" r="3.35"/><circle cx="1307.05" cy="1370.96" r="3.35"/><circle cx="1361.96" cy="1370.96" r="3.35"/><circle cx="1416.88" cy="1370.96" r="3.35"/><circle cx="1471.79" cy="1370.96" r="3.35"/><circle cx="1526.70" cy="1370.96" r="3.35"/><circle cx="1581.62" cy="1370.96" r="3.35"/><circle cx="1636.54" cy="1370.96" r="3.35"/><circle cx="1691.45" cy="1370.96" r="3.35"/><circle cx="44.00" cy="1425.88" r="3.35"/><circle cx="98.91" cy="1425.88" r="3.35"/><circle cx="153.83" cy="1425.88" r="3.35"/><circle cx="208.75" cy="1425.88" r="3.35"/><circle cx="263.66" cy="1425.88" r="3.35"/><circle cx="318.57" cy="1425.88" r="3.35"/><circle cx="373.49" cy="1425.88" r="3.35"/><circle cx="428.40" cy="1425.88" r="3.35"/><circle cx="483.32" cy="1425.88" r="3.35"/><circle cx="538.24" cy="1425.88" r="3.35"/><circle cx="593.15" cy="1425.88" r="3.35"/><circle cx="648.06" cy="1425.88" r="3.35"/><circle cx="702.98" cy="1425.88" r="3.35"/><circle cx="757.89" cy="1425.88" r="3.35"/><circle cx="812.81" cy="1425.88" r="3.35"/><circle cx="867.73" cy="1425.88" r="3.35"/><circle cx="922.64" cy="1425.88" r="3.35"/><circle cx="977.55" cy="1425.88" r="3.35"/><circle cx="1032.47" cy="1425.88" r="3.35"/><circle cx="1087.38" cy="1425.88" r="3.35"/><circle cx="1142.30" cy="1425.88" r="3.35"/><circle cx="1197.21" cy="1425.88" r="3.35"/><circle cx="1252.13" cy="1425.88" r="3.35"/><circle cx="1307.05" cy="1425.88" r="3.35"/><circle cx="1361.96" cy="1425.88" r="3.35"/><circle cx="1416.88" cy="1425.88" r="3.35"/><circle cx="1471.79" cy="1425.88" r="3.35"/><circle cx="1526.70" cy="1425.88" r="3.35"/><circle cx="1581.62" cy="1425.88" r="3.35"/><circle cx="1636.54" cy="1425.88" r="3.35"/><circle cx="1691.45" cy="1425.88" r="3.35"/><circle cx="44.00" cy="1480.79" r="3.35"/><circle cx="98.91" cy="1480.79" r="3.35"/><circle cx="153.83" cy="1480.79" r="3.35"/><circle cx="208.75" cy="1480.79" r="3.35"/><circle cx="263.66" cy="1480.79" r="3.35"/><circle cx="318.57" cy="1480.79" r="3.35"/><circle cx="373.49" cy="1480.79" r="3.35"/><circle cx="428.40" cy="1480.79" r="3.35"/><circle cx="483.32" cy="1480.79" r="3.35"/><circle cx="538.24" cy="1480.79" r="3.35"/><circle cx="593.15" cy="1480.79" r="3.35"/><circle cx="648.06" cy="1480.79" r="3.35"/><circle cx="702.98" cy="1480.79" r="3.35"/><circle cx="757.89" cy="1480.79" r="3.35"/><circle cx="812.81" cy="1480.79" r="3.35"/><circle cx="867.73" cy="1480.79" r="3.35"/><circle cx="922.64" cy="1480.79" r="3.35"/><circle cx="977.55" cy="1480.79" r="3.35"/><circle cx="1032.47" cy="1480.79" r="3.35"/><circle cx="1087.38" cy="1480.79" r="3.35"/><circle cx="1142.30" cy="1480.79" r="3.35"/><circle cx="1197.21" cy="1480.79" r="3.35"/><circle cx="1252.13" cy="1480.79" r="3.35"/><circle cx="1307.05" cy="1480.79" r="3.35"/><circle cx="1361.96" cy="1480.79" r="3.35"/><circle cx="1416.88" cy="1480.79" r="3.35"/><circle cx="1471.79" cy="1480.79" r="3.35"/><circle cx="1526.70" cy="1480.79" r="3.35"/><circle cx="1581.62" cy="1480.79" r="3.35"/><circle cx="1636.54" cy="1480.79" r="3.35"/><circle cx="1691.45" cy="1480.79" r="3.35"/><circle cx="44.00" cy="1535.70" r="3.35"/><circle cx="98.91" cy="1535.70" r="3.35"/><circle cx="153.83" cy="1535.70" r="3.35"/><circle cx="208.75" cy="1535.70" r="3.35"/><circle cx="263.66" cy="1535.70" r="3.35"/><circle cx="318.57" cy="1535.70" r="3.35"/><circle cx="373.49" cy="1535.70" r="3.35"/><circle cx="428.40" cy="1535.70" r="3.35"/><circle cx="483.32" cy="1535.70" r="3.35"/><circle cx="538.24" cy="1535.70" r="3.35"/><circle cx="593.15" cy="1535.70" r="3.35"/><circle cx="648.06" cy="1535.70" r="3.35"/><circle cx="702.98" cy="1535.70" r="3.35"/><circle cx="757.89" cy="1535.70" r="3.35"/><circle cx="812.81" cy="1535.70" r="3.35"/><circle cx="867.73" cy="1535.70" r="3.35"/><circle cx="922.64" cy="1535.70" r="3.35"/><circle cx="977.55" cy="1535.70" r="3.35"/><circle cx="1032.47" cy="1535.70" r="3.35"/><circle cx="1087.38" cy="1535.70" r="3.35"/><circle cx="1142.30" cy="1535.70" r="3.35"/><circle cx="1197.21" cy="1535.70" r="3.35"/><circle cx="1252.13" cy="1535.70" r="3.35"/><circle cx="1307.05" cy="1535.70" r="3.35"/><circle cx="1361.96" cy="1535.70" r="3.35"/><circle cx="1416.88" cy="1535.70" r="3.35"/><circle cx="1471.79" cy="1535.70" r="3.35"/><circle cx="1526.70" cy="1535.70" r="3.35"/><circle cx="1581.62" cy="1535.70" r="3.35"/><circle cx="1636.54" cy="1535.70" r="3.35"/><circle cx="1691.45" cy="1535.70" r="3.35"/><circle cx="44.00" cy="1590.62" r="3.35"/><circle cx="98.91" cy="1590.62" r="3.35"/><circle cx="153.83" cy="1590.62" r="3.35"/><circle cx="208.75" cy="1590.62" r="3.35"/><circle cx="263.66" cy="1590.62" r="3.35"/><circle cx="318.57" cy="1590.62" r="3.35"/><circle cx="373.49" cy="1590.62" r="3.35"/><circle cx="428.40" cy="1590.62" r="3.35"/><circle cx="483.32" cy="1590.62" r="3.35"/><circle cx="538.24" cy="1590.62" r="3.35"/><circle cx="593.15" cy="1590.62" r="3.35"/><circle cx="648.06" cy="1590.62" r="3.35"/><circle cx="702.98" cy="1590.62" r="3.35"/><circle cx="757.89" cy="1590.62" r="3.35"/><circle cx="812.81" cy="1590.62" r="3.35"/><circle cx="867.73" cy="1590.62" r="3.35"/><circle cx="922.64" cy="1590.62" r="3.35"/><circle cx="977.55" cy="1590.62" r="3.35"/><circle cx="1032.47" cy="1590.62" r="3.35"/><circle cx="1087.38" cy="1590.62" r="3.35"/><circle cx="1142.30" cy="1590.62" r="3.35"/><circle cx="1197.21" cy="1590.62" r="3.35"/><circle cx="1252.13" cy="1590.62" r="3.35"/><circle cx="1307.05" cy="1590.62" r="3.35"/><circle cx="1361.96" cy="1590.62" r="3.35"/><circle cx="1416.88" cy="1590.62" r="3.35"/><circle cx="1471.79" cy="1590.62" r="3.35"/><circle cx="1526.70" cy="1590.62" r="3.35"/><circle cx="1581.62" cy="1590.62" r="3.35"/><circle cx="1636.54" cy="1590.62" r="3.35"/><circle cx="1691.45" cy="1590.62" r="3.35"/><circle cx="44.00" cy="1645.54" r="3.35"/><circle cx="98.91" cy="1645.54" r="3.35"/><circle cx="153.83" cy="1645.54" r="3.35"/><circle cx="208.75" cy="1645.54" r="3.35"/><circle cx="263.66" cy="1645.54" r="3.35"/><circle cx="318.57" cy="1645.54" r="3.35"/><circle cx="373.49" cy="1645.54" r="3.35"/><circle cx="428.40" cy="1645.54" r="3.35"/><circle cx="483.32" cy="1645.54" r="3.35"/><circle cx="538.24" cy="1645.54" r="3.35"/><circle cx="593.15" cy="1645.54" r="3.35"/><circle cx="648.06" cy="1645.54" r="3.35"/><circle cx="702.98" cy="1645.54" r="3.35"/><circle cx="757.89" cy="1645.54" r="3.35"/><circle cx="812.81" cy="1645.54" r="3.35"/><circle cx="867.73" cy="1645.54" r="3.35"/><circle cx="922.64" cy="1645.54" r="3.35"/><circle cx="977.55" cy="1645.54" r="3.35"/><circle cx="1032.47" cy="1645.54" r="3.35"/><circle cx="1087.38" cy="1645.54" r="3.35"/><circle cx="1142.30" cy="1645.54" r="3.35"/><circle cx="1197.21" cy="1645.54" r="3.35"/><circle cx="1252.13" cy="1645.54" r="3.35"/><circle cx="1307.05" cy="1645.54" r="3.35"/><circle cx="1361.96" cy="1645.54" r="3.35"/><circle cx="1416.88" cy="1645.54" r="3.35"/><circle cx="1471.79" cy="1645.54" r="3.35"/><circle cx="1526.70" cy="1645.54" r="3.35"/><circle cx="1581.62" cy="1645.54" r="3.35"/><circle cx="1636.54" cy="1645.54" r="3.35"/><circle cx="1691.45" cy="1645.54" r="3.35"/><circle cx="44.00" cy="1700.45" r="3.35"/><circle cx="98.91" cy="1700.45" r="3.35"/><circle cx="153.83" cy="1700.45" r="3.35"/><circle cx="208.75" cy="1700.45" r="3.35"/><circle cx="263.66" cy="1700.45" r="3.35"/><circle cx="318.57" cy="1700.45" r="3.35"/><circle cx="373.49" cy="1700.45" r="3.35"/><circle cx="428.40" cy="1700.45" r="3.35"/><circle cx="483.32" cy="1700.45" r="3.35"/><circle cx="538.24" cy="1700.45" r="3.35"/><circle cx="593.15" cy="1700.45" r="3.35"/><circle cx="648.06" cy="1700.45" r="3.35"/><circle cx="702.98" cy="1700.45" r="3.35"/><circle cx="757.89" cy="1700.45" r="3.35"/><circle cx="812.81" cy="1700.45" r="3.35"/><circle cx="867.73" cy="1700.45" r="3.35"/><circle cx="922.64" cy="1700.45" r="3.35"/><circle cx="977.55" cy="1700.45" r="3.35"/><circle cx="1032.47" cy="1700.45" r="3.35"/><circle cx="1087.38" cy="1700.45" r="3.35"/><circle cx="1142.30" cy="1700.45" r="3.35"/><circle cx="1197.21" cy="1700.45" r="3.35"/><circle cx="1252.13" cy="1700.45" r="3.35"/><circle cx="1307.05" cy="1700.45" r="3.35"/><circle cx="1361.96" cy="1700.45" r="3.35"/><circle cx="1416.88" cy="1700.45" r="3.35"/><circle cx="1471.79" cy="1700.45" r="3.35"/><circle cx="1526.70" cy="1700.45" r="3.35"/><circle cx="1581.62" cy="1700.45" r="3.35"/><circle cx="1636.54" cy="1700.45" r="3.35"/><circle cx="1691.45" cy="1700.45" r="3.35"/><circle cx="44.00" cy="1755.37" r="3.35"/><circle cx="98.91" cy="1755.37" r="3.35"/><circle cx="153.83" cy="1755.37" r="3.35"/><circle cx="208.75" cy="1755.37" r="3.35"/><circle cx="263.66" cy="1755.37" r="3.35"/><circle cx="318.57" cy="1755.37" r="3.35"/><circle cx="373.49" cy="1755.37" r="3.35"/><circle cx="428.40" cy="1755.37" r="3.35"/><circle cx="483.32" cy="1755.37" r="3.35"/><circle cx="538.24" cy="1755.37" r="3.35"/><circle cx="593.15" cy="1755.37" r="3.35"/><circle cx="648.06" cy="1755.37" r="3.35"/><circle cx="702.98" cy="1755.37" r="3.35"/><circle cx="757.89" cy="1755.37" r="3.35"/><circle cx="812.81" cy="1755.37" r="3.35"/><circle cx="867.73" cy="1755.37" r="3.35"/><circle cx="922.64" cy="1755.37" r="3.35"/><circle cx="977.55" cy="1755.37" r="3.35"/><circle cx="1032.47" cy="1755.37" r="3.35"/><circle cx="1087.38" cy="1755.37" r="3.35"/><circle cx="1142.30" cy="1755.37" r="3.35"/><circle cx="1197.21" cy="1755.37" r="3.35"/><circle cx="1252.13" cy="1755.37" r="3.35"/><circle cx="1307.05" cy="1755.37" r="3.35"/><circle cx="1361.96" cy="1755.37" r="3.35"/><circle cx="1416.88" cy="1755.37" r="3.35"/><circle cx="1471.79" cy="1755.37" r="3.35"/><circle cx="1526.70" cy="1755.37" r="3.35"/><circle cx="1581.62" cy="1755.37" r="3.35"/><circle cx="1636.54" cy="1755.37" r="3.35"/><circle cx="1691.45" cy="1755.37" r="3.35"/><circle cx="44.00" cy="1810.28" r="3.35"/><circle cx="98.91" cy="1810.28" r="3.35"/><circle cx="153.83" cy="1810.28" r="3.35"/><circle cx="208.75" cy="1810.28" r="3.35"/><circle cx="263.66" cy="1810.28" r="3.35"/><circle cx="318.57" cy="1810.28" r="3.35"/><circle cx="373.49" cy="1810.28" r="3.35"/><circle cx="428.40" cy="1810.28" r="3.35"/><circle cx="483.32" cy="1810.28" r="3.35"/><circle cx="538.24" cy="1810.28" r="3.35"/><circle cx="593.15" cy="1810.28" r="3.35"/><circle cx="648.06" cy="1810.28" r="3.35"/><circle cx="702.98" cy="1810.28" r="3.35"/><circle cx="757.89" cy="1810.28" r="3.35"/><circle cx="812.81" cy="1810.28" r="3.35"/><circle cx="867.73" cy="1810.28" r="3.35"/><circle cx="922.64" cy="1810.28" r="3.35"/><circle cx="977.55" cy="1810.28" r="3.35"/><circle cx="1032.47" cy="1810.28" r="3.35"/><circle cx="1087.38" cy="1810.28" r="3.35"/><circle cx="1142.30" cy="1810.28" r="3.35"/><circle cx="1197.21" cy="1810.28" r="3.35"/><circle cx="1252.13" cy="1810.28" r="3.35"/><circle cx="1307.05" cy="1810.28" r="3.35"/><circle cx="1361.96" cy="1810.28" r="3.35"/><circle cx="1416.88" cy="1810.28" r="3.35"/><circle cx="1471.79" cy="1810.28" r="3.35"/><circle cx="1526.70" cy="1810.28" r="3.35"/><circle cx="1581.62" cy="1810.28" r="3.35"/><circle cx="1636.54" cy="1810.28" r="3.35"/><circle cx="1691.45" cy="1810.28" r="3.35"/><circle cx="44.00" cy="1865.19" r="3.35"/><circle cx="98.91" cy="1865.19" r="3.35"/><circle cx="153.83" cy="1865.19" r="3.35"/><circle cx="208.75" cy="1865.19" r="3.35"/><circle cx="263.66" cy="1865.19" r="3.35"/><circle cx="318.57" cy="1865.19" r="3.35"/><circle cx="373.49" cy="1865.19" r="3.35"/><circle cx="428.40" cy="1865.19" r="3.35"/><circle cx="483.32" cy="1865.19" r="3.35"/><circle cx="538.24" cy="1865.19" r="3.35"/><circle cx="593.15" cy="1865.19" r="3.35"/><circle cx="648.06" cy="1865.19" r="3.35"/><circle cx="702.98" cy="1865.19" r="3.35"/><circle cx="757.89" cy="1865.19" r="3.35"/><circle cx="812.81" cy="1865.19" r="3.35"/><circle cx="867.73" cy="1865.19" r="3.35"/><circle cx="922.64" cy="1865.19" r="3.35"/><circle cx="977.55" cy="1865.19" r="3.35"/><circle cx="1032.47" cy="1865.19" r="3.35"/><circle cx="1087.38" cy="1865.19" r="3.35"/><circle cx="1142.30" cy="1865.19" r="3.35"/><circle cx="1197.21" cy="1865.19" r="3.35"/><circle cx="1252.13" cy="1865.19" r="3.35"/><circle cx="1307.05" cy="1865.19" r="3.35"/><circle cx="1361.96" cy="1865.19" r="3.35"/><circle cx="1416.88" cy="1865.19" r="3.35"/><circle cx="1471.79" cy="1865.19" r="3.35"/><circle cx="1526.70" cy="1865.19" r="3.35"/><circle cx="1581.62" cy="1865.19" r="3.35"/><circle cx="1636.54" cy="1865.19" r="3.35"/><circle cx="1691.45" cy="1865.19" r="3.35"/><circle cx="44.00" cy="1920.11" r="3.35"/><circle cx="98.91" cy="1920.11" r="3.35"/><circle cx="153.83" cy="1920.11" r="3.35"/><circle cx="208.75" cy="1920.11" r="3.35"/><circle cx="263.66" cy="1920.11" r="3.35"/><circle cx="318.57" cy="1920.11" r="3.35"/><circle cx="373.49" cy="1920.11" r="3.35"/><circle cx="428.40" cy="1920.11" r="3.35"/><circle cx="483.32" cy="1920.11" r="3.35"/><circle cx="538.24" cy="1920.11" r="3.35"/><circle cx="593.15" cy="1920.11" r="3.35"/><circle cx="648.06" cy="1920.11" r="3.35"/><circle cx="702.98" cy="1920.11" r="3.35"/><circle cx="757.89" cy="1920.11" r="3.35"/><circle cx="812.81" cy="1920.11" r="3.35"/><circle cx="867.73" cy="1920.11" r="3.35"/><circle cx="922.64" cy="1920.11" r="3.35"/><circle cx="977.55" cy="1920.11" r="3.35"/><circle cx="1032.47" cy="1920.11" r="3.35"/><circle cx="1087.38" cy="1920.11" r="3.35"/><circle cx="1142.30" cy="1920.11" r="3.35"/><circle cx="1197.21" cy="1920.11" r="3.35"/><circle cx="1252.13" cy="1920.11" r="3.35"/><circle cx="1307.05" cy="1920.11" r="3.35"/><circle cx="1361.96" cy="1920.11" r="3.35"/><circle cx="1416.88" cy="1920.11" r="3.35"/><circle cx="1471.79" cy="1920.11" r="3.35"/><circle cx="1526.70" cy="1920.11" r="3.35"/><circle cx="1581.62" cy="1920.11" r="3.35"/><circle cx="1636.54" cy="1920.11" r="3.35"/><circle cx="1691.45" cy="1920.11" r="3.35"/><circle cx="44.00" cy="1975.03" r="3.35"/><circle cx="98.91" cy="1975.03" r="3.35"/><circle cx="153.83" cy="1975.03" r="3.35"/><circle cx="208.75" cy="1975.03" r="3.35"/><circle cx="263.66" cy="1975.03" r="3.35"/><circle cx="318.57" cy="1975.03" r="3.35"/><circle cx="373.49" cy="1975.03" r="3.35"/><circle cx="428.40" cy="1975.03" r="3.35"/><circle cx="483.32" cy="1975.03" r="3.35"/><circle cx="538.24" cy="1975.03" r="3.35"/><circle cx="593.15" cy="1975.03" r="3.35"/><circle cx="648.06" cy="1975.03" r="3.35"/><circle cx="702.98" cy="1975.03" r="3.35"/><circle cx="757.89" cy="1975.03" r="3.35"/><circle cx="812.81" cy="1975.03" r="3.35"/><circle cx="867.73" cy="1975.03" r="3.35"/><circle cx="922.64" cy="1975.03" r="3.35"/><circle cx="977.55" cy="1975.03" r="3.35"/><circle cx="1032.47" cy="1975.03" r="3.35"/><circle cx="1087.38" cy="1975.03" r="3.35"/><circle cx="1142.30" cy="1975.03" r="3.35"/><circle cx="1197.21" cy="1975.03" r="3.35"/><circle cx="1252.13" cy="1975.03" r="3.35"/><circle cx="1307.05" cy="1975.03" r="3.35"/><circle cx="1361.96" cy="1975.03" r="3.35"/><circle cx="1416.88" cy="1975.03" r="3.35"/><circle cx="1471.79" cy="1975.03" r="3.35"/><circle cx="1526.70" cy="1975.03" r="3.35"/><circle cx="1581.62" cy="1975.03" r="3.35"/><circle cx="1636.54" cy="1975.03" r="3.35"/><circle cx="1691.45" cy="1975.03" r="3.35"/><circle cx="44.00" cy="2029.94" r="3.35"/><circle cx="98.91" cy="2029.94" r="3.35"/><circle cx="153.83" cy="2029.94" r="3.35"/><circle cx="208.75" cy="2029.94" r="3.35"/><circle cx="263.66" cy="2029.94" r="3.35"/><circle cx="318.57" cy="2029.94" r="3.35"/><circle cx="373.49" cy="2029.94" r="3.35"/><circle cx="428.40" cy="2029.94" r="3.35"/><circle cx="483.32" cy="2029.94" r="3.35"/><circle cx="538.24" cy="2029.94" r="3.35"/><circle cx="593.15" cy="2029.94" r="3.35"/><circle cx="648.06" cy="2029.94" r="3.35"/><circle cx="702.98" cy="2029.94" r="3.35"/><circle cx="757.89" cy="2029.94" r="3.35"/><circle cx="812.81" cy="2029.94" r="3.35"/><circle cx="867.73" cy="2029.94" r="3.35"/><circle cx="922.64" cy="2029.94" r="3.35"/><circle cx="977.55" cy="2029.94" r="3.35"/><circle cx="1032.47" cy="2029.94" r="3.35"/><circle cx="1087.38" cy="2029.94" r="3.35"/><circle cx="1142.30" cy="2029.94" r="3.35"/><circle cx="1197.21" cy="2029.94" r="3.35"/><circle cx="1252.13" cy="2029.94" r="3.35"/><circle cx="1307.05" cy="2029.94" r="3.35"/><circle cx="1361.96" cy="2029.94" r="3.35"/><circle cx="1416.88" cy="2029.94" r="3.35"/><circle cx="1471.79" cy="2029.94" r="3.35"/><circle cx="1526.70" cy="2029.94" r="3.35"/><circle cx="1581.62" cy="2029.94" r="3.35"/><circle cx="1636.54" cy="2029.94" r="3.35"/><circle cx="1691.45" cy="2029.94" r="3.35"/><circle cx="44.00" cy="2084.86" r="3.35"/><circle cx="98.91" cy="2084.86" r="3.35"/><circle cx="153.83" cy="2084.86" r="3.35"/><circle cx="208.75" cy="2084.86" r="3.35"/><circle cx="263.66" cy="2084.86" r="3.35"/><circle cx="318.57" cy="2084.86" r="3.35"/><circle cx="373.49" cy="2084.86" r="3.35"/><circle cx="428.40" cy="2084.86" r="3.35"/><circle cx="483.32" cy="2084.86" r="3.35"/><circle cx="538.24" cy="2084.86" r="3.35"/><circle cx="593.15" cy="2084.86" r="3.35"/><circle cx="648.06" cy="2084.86" r="3.35"/><circle cx="702.98" cy="2084.86" r="3.35"/><circle cx="757.89" cy="2084.86" r="3.35"/><circle cx="812.81" cy="2084.86" r="3.35"/><circle cx="867.73" cy="2084.86" r="3.35"/><circle cx="922.64" cy="2084.86" r="3.35"/><circle cx="977.55" cy="2084.86" r="3.35"/><circle cx="1032.47" cy="2084.86" r="3.35"/><circle cx="1087.38" cy="2084.86" r="3.35"/><circle cx="1142.30" cy="2084.86" r="3.35"/><circle cx="1197.21" cy="2084.86" r="3.35"/><circle cx="1252.13" cy="2084.86" r="3.35"/><circle cx="1307.05" cy="2084.86" r="3.35"/><circle cx="1361.96" cy="2084.86" r="3.35"/><circle cx="1416.88" cy="2084.86" r="3.35"/><circle cx="1471.79" cy="2084.86" r="3.35"/><circle cx="1526.70" cy="2084.86" r="3.35"/><circle cx="1581.62" cy="2084.86" r="3.35"/><circle cx="1636.54" cy="2084.86" r="3.35"/><circle cx="1691.45" cy="2084.86" r="3.35"/></g>
<g filter="url(#gs)"><text x="373.56" y="87.8" font-size="18.5" fill="#000" textLength="72.84" lengthAdjust="spacingAndGlyphs">Frenzied</text><text x="451.59" y="87.8" font-size="18.5" fill="#000" textLength="71.87" lengthAdjust="spacingAndGlyphs">Farmer's</text><text x="529.72" y="87.8" font-size="18.5" fill="#000" textLength="38.44" lengthAdjust="spacingAndGlyphs">Wife</text><text x="487.6" y="183.9" font-size="19.5" fill="#000" textLength="61.87" lengthAdjust="spacingAndGlyphs">Hidden</text><text x="554.89" y="183.9" font-size="19.5" fill="#000" textLength="29.86" lengthAdjust="spacingAndGlyphs">exit</text><text x="487.6" y="206.5" font-size="19.5" fill="#000" textLength="31.6" lengthAdjust="spacingAndGlyphs">&lt;n&gt;</text><text x="822.49" y="443.8" font-size="19.5" fill="#000" textLength="56.05" lengthAdjust="spacingAndGlyphs">&lt;spray</text><text x="822.73" y="466.8" font-size="19.5" fill="#000" textLength="47.41" lengthAdjust="spacingAndGlyphs">rock&gt;</text><text x="1000.98" y="122.9" font-size="23.5" fill="#575757" textLength="64.06" lengthAdjust="spacingAndGlyphs">Freaky</text><text x="1070.05" y="122.9" font-size="23.5" fill="#575757" textLength="42.6" lengthAdjust="spacingAndGlyphs">Fruit</text><text x="1118.3" y="122.9" font-size="23.5" fill="#575757" textLength="76.26" lengthAdjust="spacingAndGlyphs">Orchard</text><text x="1198.8" y="122.9" font-size="23.5" fill="#575757" textLength="44.05" lengthAdjust="spacingAndGlyphs">map</text><text x="1246.75" y="122.9" font-size="23.5" fill="#575757" textLength="35.95" lengthAdjust="spacingAndGlyphs">has</text><text x="1286.78" y="122.9" font-size="23.5" fill="#575757" textLength="48.95" lengthAdjust="spacingAndGlyphs">been</text><text x="1339.35" y="122.9" font-size="23.5" fill="#575757" textLength="66.44" lengthAdjust="spacingAndGlyphs">known</text><text x="1001.45" y="149.8" font-size="23.5" fill="#575757" textLength="19.32" lengthAdjust="spacingAndGlyphs">to</text><text x="1027.17" y="149.8" font-size="23.5" fill="#575757" textLength="29.5" lengthAdjust="spacingAndGlyphs">flip</text><text x="1061.56" y="149.8" font-size="23.5" fill="#575757" textLength="95.54" lengthAdjust="spacingAndGlyphs">directions</text><text x="1162.37" y="149.8" font-size="23.5" fill="#575757" textLength="23.01" lengthAdjust="spacingAndGlyphs">as</text><text x="1190.19" y="149.8" font-size="23.5" fill="#575757" textLength="47.43" lengthAdjust="spacingAndGlyphs">seen</text><text x="1242.02" y="149.8" font-size="23.5" fill="#575757" textLength="17.21" lengthAdjust="spacingAndGlyphs">in</text><text x="1264.15" y="149.8" font-size="23.5" fill="#575757" textLength="35.68" lengthAdjust="spacingAndGlyphs">this</text><text x="1303.77" y="149.8" font-size="23.5" fill="#575757" textLength="89.24" lengthAdjust="spacingAndGlyphs">example.</text><text x="927.59" y="684.8" font-size="19.5" fill="#000" textLength="50.42" lengthAdjust="spacingAndGlyphs">&lt;exit&gt;</text><text x="927.59" y="859.8" font-size="19.5" fill="#000" textLength="63.4" lengthAdjust="spacingAndGlyphs">&lt;enter&gt;</text><text x="832.02" y="744.7" font-size="23.4" fill="#000" textLength="62.72" lengthAdjust="spacingAndGlyphs">Freaky</text><text x="899.94" y="744.7" font-size="23.4" fill="#000" textLength="42.81" lengthAdjust="spacingAndGlyphs">Fruit</text><text x="948.28" y="744.7" font-size="23.4" fill="#000" textLength="77.5" lengthAdjust="spacingAndGlyphs">Orchard</text><text x="1486.49" y="896.8" font-size="19.5" fill="#000" textLength="66.11" lengthAdjust="spacingAndGlyphs">&lt;search</text><text x="1557.63" y="896.8" font-size="19.5" fill="#000" textLength="48.41" lengthAdjust="spacingAndGlyphs">floor&gt;</text><text x="1374.78" y="992.4" font-size="19.5" fill="#000" textLength="66.73" lengthAdjust="spacingAndGlyphs">&lt;search</text><text x="1446.73" y="992.4" font-size="19.5" fill="#000" textLength="78.61" lengthAdjust="spacingAndGlyphs">fertilizer&gt;</text><text x="714.23" y="1099.8" font-size="19.5" fill="#000" textLength="41.98" lengthAdjust="spacingAndGlyphs">&lt;pull</text><text x="758.93" y="1099.8" font-size="19.5" fill="#000" textLength="67.52" lengthAdjust="spacingAndGlyphs">weeds&gt;</text><text x="831.72" y="1099.8" font-size="19.5" fill="#000" textLength="44.35" lengthAdjust="spacingAndGlyphs">takes</text><text x="881.55" y="1099.8" font-size="19.5" fill="#000" textLength="29.77" lengthAdjust="spacingAndGlyphs">you</text><text x="715.32" y="1122.7" font-size="19.5" fill="#000" textLength="15.24" lengthAdjust="spacingAndGlyphs">to</text><text x="735.76" y="1122.7" font-size="19.5" fill="#000" textLength="101.21" lengthAdjust="spacingAndGlyphs">Bennebroek</text><text x="842.8" y="1122.7" font-size="19.5" fill="#000" textLength="55.22" lengthAdjust="spacingAndGlyphs">Manor</text><text x="936.47" y="1100.6" font-size="19.5" fill="#000" textLength="11.27" lengthAdjust="spacingAndGlyphs">A</text><text x="952.6" y="1100.6" font-size="19.5" fill="#000" textLength="37.95" lengthAdjust="spacingAndGlyphs">mud</text><text x="935.99" y="1123.7" font-size="19.5" fill="#000" textLength="83.74" lengthAdjust="spacingAndGlyphs">encrusted</text><text x="935.76" y="1147.0" font-size="19.5" fill="#000" textLength="36.37" lengthAdjust="spacingAndGlyphs">rake</text><text x="1374.57" y="1098.6" font-size="19.5" fill="#000" textLength="10.96" lengthAdjust="spacingAndGlyphs">A</text><text x="1390.6" y="1098.6" font-size="19.5" fill="#000" textLength="38.17" lengthAdjust="spacingAndGlyphs">mud</text><text x="1433.58" y="1098.6" font-size="19.5" fill="#000" textLength="84.35" lengthAdjust="spacingAndGlyphs">encrusted</text><text x="1522.33" y="1098.6" font-size="19.5" fill="#000" textLength="37.22" lengthAdjust="spacingAndGlyphs">rake</text><text x="692.83" y="1429.6" font-size="23.3" fill="#000" textLength="86.33" lengthAdjust="spacingAndGlyphs">Entrance</text><text x="719.76" y="1589.7" font-size="19.5" fill="#000" textLength="66.01" lengthAdjust="spacingAndGlyphs">&lt;unlock</text><text x="791.81" y="1589.7" font-size="19.5" fill="#000" textLength="62.09" lengthAdjust="spacingAndGlyphs">gazebo</text><text x="858.9" y="1589.7" font-size="19.5" fill="#000" textLength="43.62" lengthAdjust="spacingAndGlyphs">door;</text><text x="906.79" y="1589.7" font-size="19.5" fill="#000" textLength="43.07" lengthAdjust="spacingAndGlyphs">open</text><text x="720.1" y="1612.4" font-size="19.5" fill="#000" textLength="62.19" lengthAdjust="spacingAndGlyphs">gazebo</text><text x="787.1" y="1612.4" font-size="19.5" fill="#000" textLength="43.62" lengthAdjust="spacingAndGlyphs">door;</text><text x="835.32" y="1612.4" font-size="19.5" fill="#000" textLength="52.58" lengthAdjust="spacingAndGlyphs">enter&gt;</text><text x="1082.85" y="1703.6" font-size="19.2" fill="#000" textLength="63.66" lengthAdjust="spacingAndGlyphs">Second</text><text x="1151.7" y="1703.6" font-size="19.2" fill="#000" textLength="44.53" lengthAdjust="spacingAndGlyphs">Floor</text><text x="1196.91" y="1885.0" font-size="15.0" fill="#000" textLength="22.92" lengthAdjust="spacingAndGlyphs">key</text><text x="1224.37" y="1885.0" font-size="15.0" fill="#000" textLength="18.69" lengthAdjust="spacingAndGlyphs">for</text><text x="1246.98" y="1885.0" font-size="15.0" fill="#000" textLength="49.81" lengthAdjust="spacingAndGlyphs">Gazebo</text><text x="1186.46" y="1907.4" font-size="19.5" fill="#000" textLength="53.58" lengthAdjust="spacingAndGlyphs">&lt;open</text><text x="1244.91" y="1907.4" font-size="19.5" fill="#000" textLength="62.68" lengthAdjust="spacingAndGlyphs">drawer;</text><text x="1187.38" y="1930.6" font-size="19.5" fill="#000" textLength="56.24" lengthAdjust="spacingAndGlyphs">search</text><text x="1248.13" y="1930.6" font-size="19.5" fill="#000" textLength="67.18" lengthAdjust="spacingAndGlyphs">drawer&gt;</text><text x="43.85" y="349.9" font-size="39.0" fill="#000" textLength="109.92" lengthAdjust="spacingAndGlyphs">Freaky</text><text x="163.9" y="349.9" font-size="39.0" fill="#000" textLength="75.47" lengthAdjust="spacingAndGlyphs">Fruit</text><text x="44.14" y="393.7" font-size="39.0" fill="#000" textLength="134.26" lengthAdjust="spacingAndGlyphs">Orchard</text><text x="132.54" y="1057.8" font-size="39.0" fill="#000" textLength="113.92" lengthAdjust="spacingAndGlyphs">Veggie</text><text x="131.96" y="1101.9" font-size="39.0" fill="#000" textLength="122.12" lengthAdjust="spacingAndGlyphs">Garden</text><text x="61.84" y="1830.7" font-size="39.0" fill="#000" textLength="200.9" lengthAdjust="spacingAndGlyphs">Bennebroek</text><text x="61.72" y="1875.2" font-size="39.0" fill="#000" textLength="109.72" lengthAdjust="spacingAndGlyphs">Manor</text></g>
<path d="M1363.0,160.5 L1032.45,160.5 L1032.45,545.15" fill="none" stroke="#5a5a5a" stroke-width="1.1"/><line x1="1032.45" y1="545.15" x2="1363.0" y2="545.15" stroke="#777" stroke-width="1.1"/><line x1="1363.0" y1="160.5" x2="1363.0" y2="545.15" stroke="#999" stroke-width="1.2"/>
<g><polyline points="1089.1,496.1 1088.6,219.7 1144.2,220.5 1145.0,495.1 1200.6,496.5 1200.4,222.0 1253.8,219.7 1254.3,495.5 1309.1,496.1 1309.0,219.7" fill="none" stroke="#5f5f5f" stroke-width="2.7" stroke-linejoin="round" stroke-linecap="round"/><circle cx="1088.6" cy="219.7" r="5.3" fill="#5f5f5f"/><circle cx="1088.3" cy="275.4" r="5.3" fill="#5f5f5f"/><circle cx="1088.6" cy="329.7" r="5.3" fill="#5f5f5f"/><circle cx="1088.6" cy="385.1" r="5.3" fill="#5f5f5f"/><circle cx="1089.3" cy="440.5" r="5.3" fill="#5f5f5f"/><circle cx="1144.0" cy="220.5" r="5.3" fill="#5f5f5f"/><circle cx="1144.0" cy="275.8" r="5.3" fill="#5f5f5f"/><circle cx="1143.6" cy="332.3" r="5.3" fill="#5f5f5f"/><circle cx="1145.1" cy="386.5" r="5.3" fill="#5f5f5f"/><circle cx="1145.4" cy="439.7" r="5.3" fill="#5f5f5f"/><circle cx="1144.6" cy="495.1" r="5.3" fill="#5f5f5f"/><circle cx="1200.4" cy="222.0" r="5.3" fill="#5f5f5f"/><circle cx="1199.2" cy="275.5" r="5.3" fill="#5f5f5f"/><circle cx="1199.2" cy="329.7" r="5.3" fill="#5f5f5f"/><circle cx="1199.6" cy="385.5" r="5.3" fill="#5f5f5f"/><circle cx="1199.6" cy="440.9" r="5.3" fill="#5f5f5f"/><circle cx="1199.3" cy="496.5" r="5.3" fill="#5f5f5f"/><circle cx="1253.8" cy="219.7" r="5.3" fill="#5f5f5f"/><circle cx="1253.5" cy="275.1" r="5.3" fill="#5f5f5f"/><circle cx="1254.5" cy="330.0" r="5.3" fill="#5f5f5f"/><circle cx="1254.9" cy="386.8" r="5.3" fill="#5f5f5f"/><circle cx="1253.8" cy="439.7" r="5.3" fill="#5f5f5f"/><circle cx="1253.5" cy="495.5" r="5.3" fill="#5f5f5f"/><circle cx="1308.5" cy="219.7" r="5.3" fill="#5f5f5f"/><circle cx="1309.1" cy="276.2" r="5.3" fill="#5f5f5f"/><circle cx="1309.2" cy="329.7" r="5.3" fill="#5f5f5f"/><circle cx="1307.3" cy="383.1" r="5.3" fill="#5f5f5f"/><circle cx="1308.5" cy="441.5" r="5.3" fill="#5f5f5f"/><circle cx="1308.8" cy="496.1" r="5.3" fill="#5f5f5f"/><circle cx="1089.3" cy="496.1" r="10.6" fill="#5f5f5f"/></g>
<g><line x1="924.2" y1="666" x2="924.2" y2="725" stroke="#222" stroke-width="1.25"/><line x1="924.0" y1="749.5" x2="923.4" y2="872" stroke="#222" stroke-width="1.25"/><path d="M930.5,684.2 L930.5,714.3 M927.0,709.6 L930.5,714.3 L934.0,709.6" fill="none" stroke="#000" stroke-width="1.2"/><path d="M929.4,849 L929.4,816 M925.7,821 L929.4,816 L933.4,820.6" fill="none" stroke="#000" stroke-width="1.2"/><line x1="811.9" y1="1542" x2="811.9" y2="1577" stroke="#222" stroke-width="1.25"/><line x1="811.5" y1="1616" x2="811.0" y2="1645" stroke="#222" stroke-width="1.25"/><path d="M792.7,1983.6 C784,1983 775,1981 775,1978.6 C775,1976 784,1974.5 793.6,1973.6 M789.8,1970.1 L793.6,1973.6 L790.3,1977.7" fill="none" stroke="#000" stroke-width="1.1" stroke-linecap="round" stroke-linejoin="round"/><path d="M835.2,1982.1 C843,1981 851.7,1979.5 851.7,1977.1 C851.7,1974.5 842,1973 833.4,1972.4 M836.7,1968.3 L833.4,1972.4 L836.9,1975.6" fill="none" stroke="#000" stroke-width="1.1" stroke-linecap="round" stroke-linejoin="round"/><path d="M816.7,1997 C816.5,2003 815,2010 812.5,2010.1 C810,2010 808.5,2002 808.1,1995.7 M804.2,2000.7 L808.1,1995.7 L811.8,1999.6" fill="none" stroke="#000" stroke-width="1.1" stroke-linecap="round" stroke-linejoin="round"/></g>
<g><polyline points="483.4,106.5 483.6,547.2 593.6,548.4 593.6,108.8 702.6,107.9 702.8,547.2 813.1,547.0 811.3,108.0 923.8,106.8 924.2,656.2" fill="none" stroke="#000" stroke-width="3.4" stroke-linejoin="round" stroke-linecap="round"/><polyline points="812.0,1421.2 920.9,1314.6 923.5,876.3 1034.2,876.0 1033.4,1314.6 1142.6,1314.6 1142.8,876.0 1253.0,876.7 1251.4,1313.8 1361.0,1314.6 1362.1,985.8 1471.9,874.2" fill="none" stroke="#000" stroke-width="3.4" stroke-linejoin="round" stroke-linecap="round"/><path d="M1468.3,885.3 L1472.6,893.2 L1477.3,885.3" fill="none" stroke="#000" stroke-width="3" stroke-linejoin="round" stroke-linecap="round"/><path d="M1467.2,920.8 L1471.3,913.0 L1476.0,920.3" fill="none" stroke="#000" stroke-width="3" stroke-linejoin="round" stroke-linecap="round"/><polyline points="701.4,1757.0 811.0,1648.9 921.8,1756.6" fill="none" stroke="#000" stroke-width="3.4" stroke-linejoin="round" stroke-linecap="round"/><polyline points="701.4,1757.0 921.8,1756.6" fill="none" stroke="#000" stroke-width="3.4" stroke-linejoin="round" stroke-linecap="round"/><polyline points="701.4,1757.0 701.5,1867.2" fill="none" stroke="#000" stroke-width="3.4" stroke-linejoin="round" stroke-linecap="round"/><polyline points="921.8,1756.6 922.4,1866.4" fill="none" stroke="#000" stroke-width="3.4" stroke-linejoin="round" stroke-linecap="round"/><polyline points="813.1,1757.3 813.0,1866.4 813.0,1977.9" fill="none" stroke="#000" stroke-width="3.4" stroke-linejoin="round" stroke-linecap="round"/><path d="M822.0,1750.2 L826.2,1741.6 L830.6,1750.2" fill="none" stroke="#000" stroke-width="3" stroke-linecap="round" stroke-linejoin="round"/><polyline points="1029.4,1864.1 1029.4,1754.4 1249.8,1754.0 1250.3,1863.5" fill="none" stroke="#000" stroke-width="3.4" stroke-linejoin="round" stroke-linecap="round"/><path d="M1122.6,1767.0 L1127.4,1775.4 L1132.2,1767.0" fill="none" stroke="#000" stroke-width="3" stroke-linecap="round" stroke-linejoin="round"/></g>
<g><circle cx="483.4" cy="106.5" r="5.7" fill="#000"/><circle cx="484.3" cy="217.0" r="5.7" fill="#000"/><circle cx="483.0" cy="327.4" r="5.7" fill="#000"/><circle cx="484.2" cy="438.6" r="5.7" fill="#000"/><circle cx="483.6" cy="547.2" r="5.7" fill="#000"/><circle cx="593.6" cy="108.8" r="5.7" fill="#000"/><circle cx="593.6" cy="218.9" r="5.7" fill="#000"/><circle cx="593.6" cy="327.4" r="5.7" fill="#000"/><circle cx="593.6" cy="437.2" r="5.7" fill="#000"/><circle cx="593.6" cy="548.4" r="5.7" fill="#000"/><circle cx="702.6" cy="107.9" r="5.7" fill="#000"/><circle cx="703.4" cy="218.0" r="5.7" fill="#000"/><circle cx="702.8" cy="328.3" r="5.7" fill="#000"/><circle cx="702.5" cy="437.2" r="5.7" fill="#000"/><circle cx="702.8" cy="547.2" r="5.7" fill="#000"/><circle cx="811.3" cy="108.0" r="5.7" fill="#000"/><circle cx="811.0" cy="215.9" r="5.7" fill="#000"/><circle cx="811.6" cy="329.2" r="5.7" fill="#000"/><circle cx="811.9" cy="437.9" r="5.7" fill="#000"/><circle cx="813.1" cy="547.0" r="5.7" fill="#000"/><circle cx="923.8" cy="106.8" r="5.7" fill="#000"/><circle cx="923.7" cy="218.0" r="5.7" fill="#000"/><circle cx="923.7" cy="327.4" r="5.7" fill="#000"/><circle cx="923.7" cy="437.6" r="5.7" fill="#000"/><circle cx="923.1" cy="547.3" r="5.7" fill="#000"/><circle cx="924.2" cy="656.2" r="8.4" fill="#02a932" stroke="#000" stroke-width="2.6"/><circle cx="922.6" cy="986.1" r="5.7" fill="#000"/><circle cx="922.1" cy="1205.9" r="5.7" fill="#000"/><circle cx="920.9" cy="1314.6" r="5.7" fill="#000"/><circle cx="1034.2" cy="876.0" r="5.7" fill="#000"/><circle cx="1034.2" cy="985.2" r="5.7" fill="#000"/><circle cx="1034.9" cy="1095.5" r="5.7" fill="#000"/><circle cx="1033.4" cy="1204.2" r="5.7" fill="#000"/><circle cx="1033.4" cy="1314.6" r="5.7" fill="#000"/><circle cx="1142.8" cy="876.0" r="5.7" fill="#000"/><circle cx="1143.2" cy="986.9" r="5.7" fill="#000"/><circle cx="1142.3" cy="1095.9" r="5.7" fill="#000"/><circle cx="1142.6" cy="1204.2" r="5.7" fill="#000"/><circle cx="1142.6" cy="1314.6" r="5.7" fill="#000"/><circle cx="1253.0" cy="876.7" r="5.7" fill="#000"/><circle cx="1251.3" cy="986.9" r="5.7" fill="#000"/><circle cx="1251.3" cy="1095.9" r="5.7" fill="#000"/><circle cx="1251.4" cy="1205.0" r="5.7" fill="#000"/><circle cx="1251.4" cy="1313.8" r="5.7" fill="#000"/><circle cx="1362.1" cy="985.8" r="5.7" fill="#000"/><circle cx="1361.8" cy="1095.0" r="5.7" fill="#000"/><circle cx="1361.0" cy="1205.0" r="5.7" fill="#000"/><circle cx="1361.0" cy="1314.6" r="5.7" fill="#000"/><circle cx="1471.9" cy="874.2" r="5.7" fill="#000"/><circle cx="1471.0" cy="930.5" r="5.7" fill="#000"/><circle cx="923.5" cy="877.0" r="4.4" fill="#02a932" stroke="#000" stroke-width="1.8"/><circle cx="922.5" cy="1094.8" r="4.5" fill="#ed1923" stroke="#000" stroke-width="2.0"/><circle cx="809.8" cy="1421.3" r="12.6" fill="#f9f700" stroke="#000" stroke-width="4.4"/><path d="M805.6,1417.5 C805.2,1421 806.8,1424.2 810,1424.6 C812.6,1424.8 814.6,1422.8 814.6,1419.6 M802.5,1416 L804.8,1413.5" fill="none" stroke="#6b6b00" stroke-width="0.8" stroke-dasharray="1.2 1.4" opacity="0.8"/><circle cx="811.5" cy="1537.1" r="5.7" fill="#000"/><circle cx="811.0" cy="1648.9" r="5.7" fill="#000"/><circle cx="701.4" cy="1757.0" r="5.7" fill="#000"/><circle cx="813.1" cy="1757.3" r="5.7" fill="#000"/><circle cx="921.8" cy="1756.6" r="5.7" fill="#000"/><circle cx="701.5" cy="1867.2" r="5.7" fill="#000"/><circle cx="813.0" cy="1866.4" r="5.7" fill="#000"/><circle cx="922.4" cy="1866.4" r="5.7" fill="#000"/><circle cx="813.0" cy="1977.9" r="8.4" fill="#ed1c24" stroke="#000" stroke-width="2.7"/><circle cx="1029.4" cy="1754.4" r="5.7" fill="#000"/><circle cx="1139.9" cy="1755.1" r="5.7" fill="#000"/><circle cx="1249.8" cy="1754.0" r="5.7" fill="#000"/><circle cx="1029.4" cy="1864.1" r="5.7" fill="#000"/><circle cx="1250.3" cy="1863.5" r="5.7" fill="#000"/></g>
<g fill="none" stroke="#6040c0" stroke-width="1.3" stroke-linecap="round" stroke-linejoin="round"><path d="M1660.4,2063.4 L1665.9,2057.3"/><path d="M1665.7,2056.5 C1666.5,2053 1667.8,2049 1669.6,2048.4 C1671.2,2048 1670.8,2051 1669.2,2053.8 C1668.2,2055.6 1667.2,2056.8 1666.5,2057.5"/><path d="M1666.5,2057 C1665.6,2062 1664.8,2067 1664.3,2070.5"/><path d="M1664.3,2070.5 C1662,2072 1659,2075 1658,2078.5 C1657.8,2080.2 1659.6,2080.2 1661,2078 C1662.4,2076 1663.3,2074 1663.8,2071.8"/><path d="M1663.8,2071.8 C1668,2070.6 1673,2069.6 1677,2068 C1681,2066 1683.5,2062 1683.5,2057 C1683.4,2052 1680,2049.8 1676.6,2050.9"/><path d="M1665.2,2068.2 L1667,2066.2 L1667.6,2069 L1669.2,2066.4 L1670.2,2069 L1672,2066 L1673.2,2068.6 L1675,2065.6 L1676.6,2067.6 L1679.4,2063.8"/></g>
</svg>
</body></html>
